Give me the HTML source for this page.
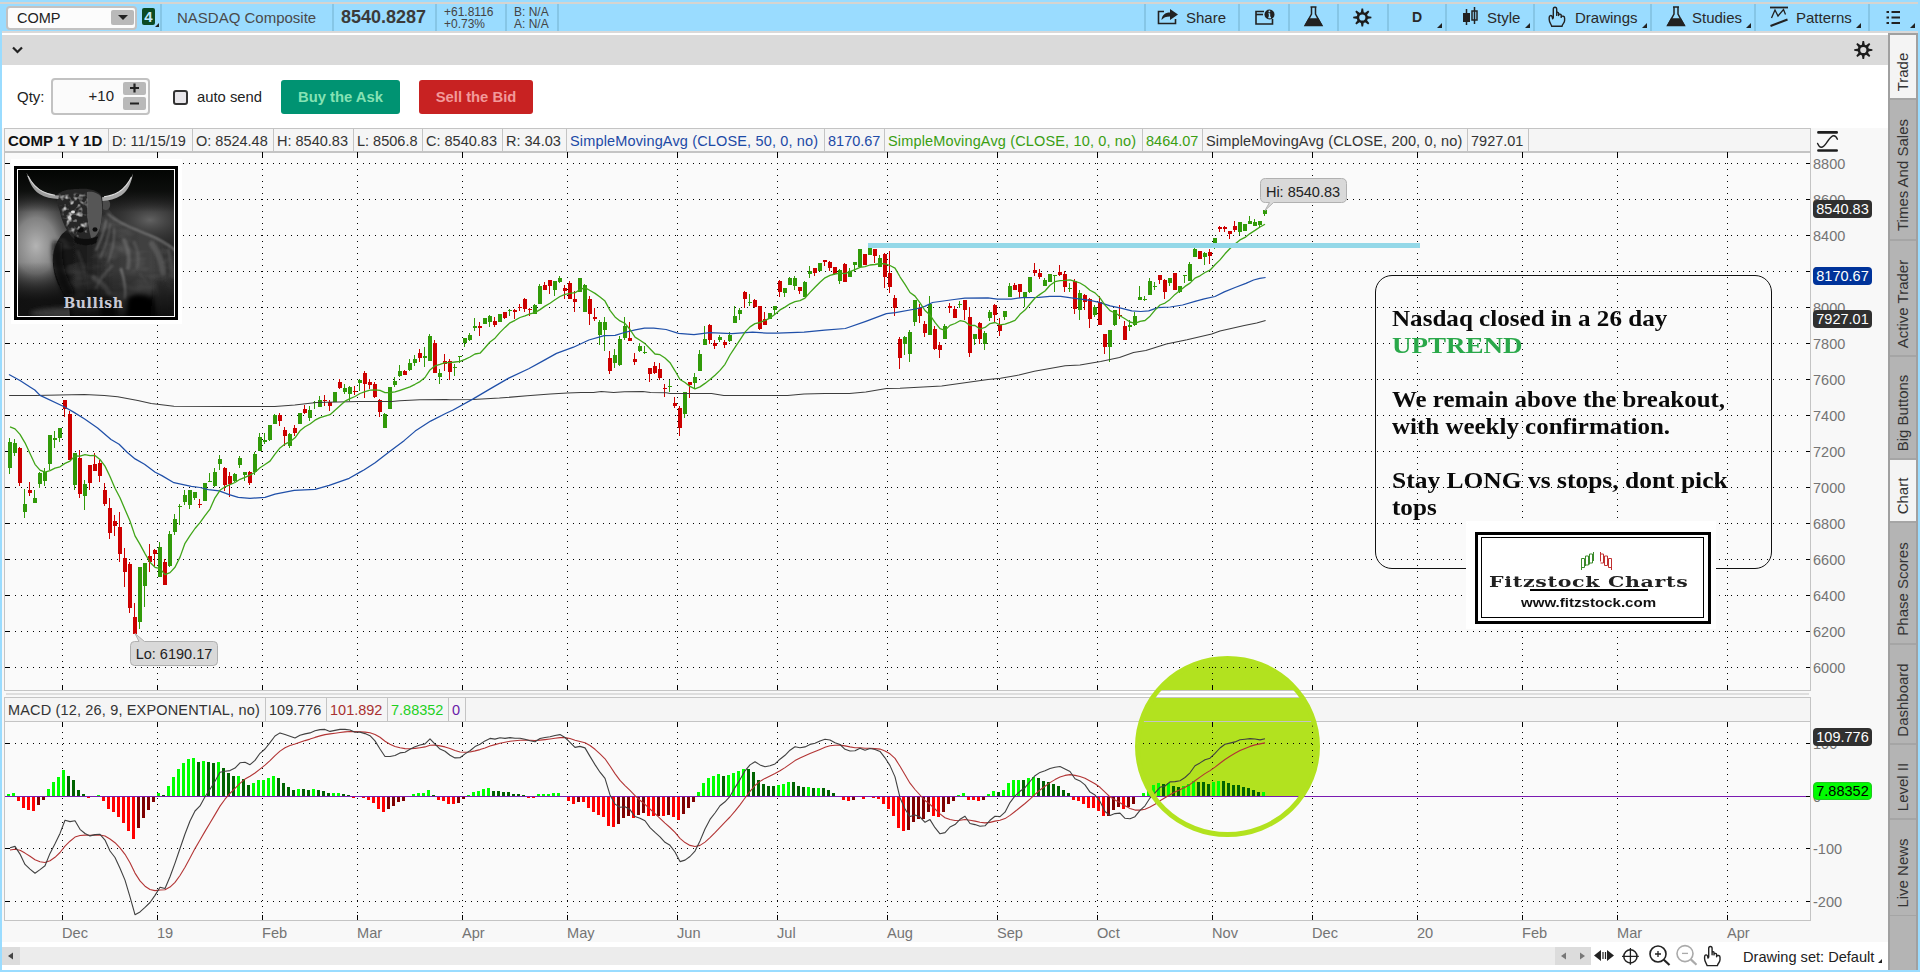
<!DOCTYPE html>
<html><head><meta charset="utf-8"><title>COMP chart</title>
<style>
html,body{margin:0;padding:0;}
body{width:1920px;height:972px;overflow:hidden;background:#fff;font-family:"Liberation Sans",sans-serif;color:#222;}
#app{position:relative;width:1920px;height:972px;overflow:hidden;background:#fff;}
#app>*{position:absolute;}
.abs{position:absolute;}
#chart{left:0;top:0;}
/* frame */
#topblue{left:0;top:0;width:1920px;height:31px;background:#9adcff;}
#topline{left:0;top:2px;width:1918px;height:2px;background:#d6d4d0;}
#tbline{left:0;top:31px;width:1918px;height:2px;background:#d9d9d9;}
#lborder{left:0;top:31px;width:2px;height:941px;background:#9adcff;}
#rborder{left:1918px;top:0;width:2px;height:972px;background:#9adcff;}
#bborder{left:0;top:970px;width:1920px;height:2px;background:#9adcff;}
#graybar{left:2px;top:35px;width:1886px;height:30px;background:#dadada;}
#axisbg{left:2px;top:128px;width:1886px;height:814px;background:#f8f8f8;}
/* toolbar */
.tsep{top:4px;width:2px;height:27px;background:#86c6e6;}
.tb{top:4px;height:27px;line-height:27px;font-size:15px;color:#2a2a2a;white-space:nowrap;}
.tri{width:0;height:0;border-left:5px solid transparent;border-bottom:5px solid #222;}
#combo{left:6px;top:6px;width:127px;height:20px;border:2px solid #c2c2c2;border-radius:4px;background:#fcfcfc;}
#combo span{position:absolute;left:9px;top:0;line-height:20px;font-size:14.5px;color:#222;}
#combo i{position:absolute;left:103px;top:2px;width:23px;height:15px;background:#b9b9b9;border-radius:2px;}
#combo i:after{content:"";position:absolute;left:7px;top:5px;border-left:5px solid transparent;border-right:5px solid transparent;border-top:5px solid #222;}
#badge{left:142px;top:8px;width:13px;height:17px;background:#0a4a24;border-radius:2px;color:#bfe8ff;font-size:15px;font-weight:bold;line-height:17px;text-align:center;}
/* qty row */
#qty{left:17px;top:88px;font-size:15px;color:#222;}
#qtybox{left:51px;top:78px;width:95px;height:33px;border:2px solid #c2c2c2;border-radius:4px;background:#fbfbfb;}
#qtybox span{position:absolute;right:34px;top:0;line-height:32px;font-size:15px;}
#qtybox b{position:absolute;left:70px;width:23px;height:13px;background:#b9b9b9;border-radius:2px;}
#chk{left:173px;top:90px;width:11px;height:11px;border:2px solid #333;border-radius:3px;background:#e8e6ea;}
#autosend{left:197px;top:89px;font-size:14.8px;color:#222;}
.btn{top:80px;height:34px;line-height:35.500px;border-radius:3px;font-size:14.8px;font-weight:bold;text-align:center;}
#buy{left:281px;width:119px;background:#009372;color:#86e2b4;}
#sell{left:419px;width:114px;background:#c82222;color:#f29a9a;}
/* header row */
#hdr{left:4px;top:128px;width:1807px;height:24px;border:1px solid #c4c4c4;box-sizing:border-box;background:#f5f5f5;}
.hc{position:absolute;top:0;height:22px;line-height:24.5px;font-size:14.5px;color:#333;border-right:1px solid #c4c4c4;box-sizing:border-box;white-space:nowrap;padding-left:3px;}
/* sidebar */
#side{left:1888px;top:33px;width:30px;height:937px;background:#a0a0a0;}
.tab{position:absolute;left:2px;width:26px;background:#b4b4b4;border-bottom:2px solid #a5a5a5;box-sizing:border-box;}
.tab span{position:absolute;left:calc(50% - 1px);top:calc(50% + 5.5px);transform:translate(-50%,-50%) rotate(-90deg);white-space:nowrap;font-size:15px;color:#333;}
.tab.on{background:#f4f4f4;}
/* axis labels */
.yl{left:1813px;font-size:14.5px;line-height:16px;color:#747474;}
.ml{top:924.700px;font-size:14.6px;line-height:17px;color:#747474;}
.bdg{left:1813px;width:59px;height:18px;border-radius:4px;color:#fff;font-size:14.5px;line-height:18.5px;text-align:center;}
.bub{background:#d9d9d9;border:1px solid #b4b4b4;border-radius:5px;font-size:14px;color:#222;text-align:center;box-sizing:border-box;}
/* bottom */
#scroll{left:2px;top:947px;width:1589px;height:18px;background:#ececec;}
#botlbl{left:1743px;top:948px;font-size:14.6px;line-height:18px;color:#222;}
/* note box */
#note{left:1375px;top:275px;width:397px;height:294px;border:1px solid #111;border-radius:17px;box-sizing:border-box;}
#note div{position:absolute;left:16px;white-space:nowrap;font-family:"Liberation Serif",serif;font-weight:bold;font-size:24px;line-height:27px;color:#0a0a0a;transform-origin:0 50%;}
#logo{left:1466px;top:521px;width:250px;height:108px;background:#fff;}
#logo .o{position:absolute;left:9px;top:11px;width:230px;height:86px;border:3px solid #000;}
#logo .i{position:absolute;left:15px;top:16px;width:221px;height:79px;border:1px solid #000;}
#bull{left:11px;top:159px;width:171px;height:165px;background:#fff;overflow:hidden;}
#bull svg{position:absolute;left:-1px;top:1px;}

</style></head><body>
<div id="app">
<div id="topblue"></div><div id="topline"></div><div id="tbline"></div>
<div id="graybar"></div><div id="axisbg"></div>
<div id="lborder"></div><div id="rborder"></div><div id="bborder"></div>
<div id="combo"><span>COMP</span><i></i></div>
<div id="badge">4</div><div class="tri" style="left:155px;top:23px;border-left-width:4px;border-bottom-width:4px"></div>
<div class="tsep" style="left:160px"></div>
<div class="tsep" style="left:332px"></div>
<div class="tsep" style="left:435px"></div>
<div class="tsep" style="left:505px"></div>
<div class="tsep" style="left:557px"></div>
<div class="tsep" style="left:1144px"></div>
<div class="tsep" style="left:1238px"></div>
<div class="tsep" style="left:1288px"></div>
<div class="tsep" style="left:1337px"></div>
<div class="tsep" style="left:1387px"></div>
<div class="tsep" style="left:1445px"></div>
<div class="tsep" style="left:1533px"></div>
<div class="tsep" style="left:1650px"></div>
<div class="tsep" style="left:1754px"></div>
<div class="tsep" style="left:1868px"></div>
<div class="tb" style="left:177px;color:#4a4a4a;font-size:15px">NASDAQ Composite</div>
<div class="tb" style="left:341px;font-size:18px;font-weight:bold;color:#3a3a3a">8540.8287</div>
<div class="tb" style="left:444px;font-size:12px;line-height:12px;top:6px;color:#444">+61.8116<br>+0.73%</div>
<div class="tb" style="left:514px;font-size:12px;line-height:12px;top:6px;color:#444">B: N/A<br>A: N/A</div>
<div class="tb" style="left:1186px">Share</div>
<div class="tb" style="left:1412px;font-weight:bold;font-size:14px">D</div>
<div class="tb" style="left:1487px">Style</div>
<div class="tb" style="left:1575px">Drawings</div>
<div class="tb" style="left:1692px">Studies</div>
<div class="tb" style="left:1796px">Patterns</div>
<div class="tri" style="left:1437px;top:23px"></div>
<div class="tri" style="left:1525px;top:23px"></div>
<div class="tri" style="left:1642px;top:23px"></div>
<div class="tri" style="left:1746px;top:23px"></div>
<div class="tri" style="left:1856px;top:23px"></div>
<div class="tri" style="left:1910px;top:23px"></div>
<svg class="abs" style="left:0;top:0" width="1920" height="70" viewBox="0 0 1920 70" fill="none" stroke="#222" stroke-width="1.6">
<!-- share -->
<path d="M1164 11.5H1158.5V23.5H1175.5V19" />
<path d="M1161.5 20C1162 15 1165 12.5 1170 12.5V9L1178 14.5L1170 20V16.5C1166 16.5 1163.5 17.5 1161.500 20Z" fill="#222" stroke="none"/>
<!-- info window -->
<path d="M1264 11.500H1256V24H1272.5V19"/><path d="M1256 14.500H1263"/>
<circle cx="1269.500" cy="14.500" r="5" fill="#222" stroke="none"/>
<path d="M1269.500 13.500V17.500M1268.300 17.500H1271M1268.500 13.500H1269.500" stroke="#9adcff" stroke-width="1.400"/><circle cx="1269.400" cy="11.300" r="0.900" fill="#9adcff" stroke="none"/>
<!-- flask1 -->
<g id="flask"><path d="M1310.500 7H1316.500M1311.500 7.500V14L1305.500 25H1321.500L1315.500 14V7.500" stroke-width="1.500"/><path d="M1309 19L1305.200 25.500H1321.800L1318 19Z" fill="#222"/></g>
<use href="#flask" x="362.500"/>
<!-- gear -->
<g id="gear" transform="translate(0.300 0.500)"><path d="M1366.60 18.55L1371.10 17.80L1371.10 16.20L1366.60 15.45ZM1364.16 21.35L1367.87 24.00L1369.00 22.87L1366.35 19.16ZM1360.45 21.60L1361.20 26.10L1362.80 26.10L1363.55 21.60ZM1357.65 19.16L1355.00 22.87L1356.13 24.00L1359.84 21.35ZM1357.40 15.45L1352.90 16.20L1352.90 17.80L1357.40 18.55ZM1359.84 12.65L1356.13 10.00L1355.00 11.13L1357.65 14.84ZM1363.55 12.40L1362.80 7.90L1361.20 7.90L1360.45 12.40ZM1366.35 14.84L1369.00 11.13L1367.87 10.00L1364.16 12.65Z" fill="#1c1c1c" stroke="none"/><circle cx="1362" cy="17" r="4.35" stroke="#1c1c1c" stroke-width="2.500" fill="none"/></g>
<use href="#gear" x="501" y="32.500"/>
<!-- style candles -->
<path d="M1466.500 9V25M1474.500 7V24" stroke-width="1.500"/><rect x="1463.500" y="13.500" width="6" height="8" fill="#222" stroke-width="1"/><rect x="1472" y="11" width="5" height="9" stroke-width="1.500"/>
<!-- hand -->
<g id="hand" stroke-width="1.400" stroke-linejoin="round" stroke-linecap="round"><path d="M1553.300 17.800V9.200C1553.300 6.600 1556.700 6.600 1556.700 9.200V15.400M1556.700 13.200C1557 11.900 1558.600 12.100 1558.600 13.500V15.600M1558.700 14.900C1559 13.700 1561.200 13.900 1561.200 15.300V17.400M1561.300 16.700C1562 15.700 1564.600 16.100 1564.600 17.900V20.500C1564.600 23 1562.400 24 1562 26.300H1551.700C1551.400 24.500 1549.200 22.500 1549.200 19.500V17.600C1549.200 15.200 1551.600 14.900 1552.200 16.900L1552.600 18.700L1553.300 17.800"/></g>
<!-- patterns -->
<path d="M1770 7.500H1788" stroke-width="1.800"/><path d="M1771.500 18L1775 10L1778 16L1783.500 9.500L1785.500 14.500" stroke-width="1.300"/><path d="M1770.500 26L1787.500 19.500" stroke-width="2"/>
<!-- list -->
<path d="M1891.500 12H1900M1891.500 17.500H1900M1891.500 23H1900" stroke-width="2"/><path d="M1886.500 12H1889M1886.500 17.500H1889M1886.500 23H1889" stroke-width="2"/>
<!-- chevron -->
<path d="M13 47.500L17.500 52L22 47.500" stroke-width="2.200"/>
</svg>
<div id="qty">Qty:</div><div id="qtybox"><span>+10</span><b style="top:2px"></b><b style="top:17px"></b></div>
<svg class="abs" style="left:123px;top:79.500px" width="24" height="34" stroke="#222" stroke-width="2.200"><path d="M7 8H16M11.500 3.500V12.500M7 23.500H16"/></svg>
<div id="chk"></div><div id="autosend">auto send</div>
<div id="buy" class="btn">Buy the Ask</div><div id="sell" class="btn">Sell the Bid</div>
<div id="hdr"><div class="hc" style="left:0px;width:104px;color:#111"><b style="color:#111;font-size:15px">COMP 1 Y 1D</b></div><div class="hc" style="left:104px;width:84px;color:#333">D: 11/15/19</div><div class="hc" style="left:188px;width:81px;color:#333">O: 8524.48</div><div class="hc" style="left:269px;width:80px;color:#333">H: 8540.83</div><div class="hc" style="left:349px;width:69px;color:#333">L: 8506.8</div><div class="hc" style="left:418px;width:80px;color:#333">C: 8540.83</div><div class="hc" style="left:498px;width:64px;color:#333">R: 34.03</div><div class="hc" style="left:562px;width:258px;color:#1c4aa6"><span style="letter-spacing:0.15px">SimpleMovingAvg (CLOSE, 50, 0, no)</span></div><div class="hc" style="left:820px;width:60px;color:#1c4aa6">8170.67</div><div class="hc" style="left:880px;width:258px;color:#3a9e12"><span style="letter-spacing:0.15px">SimpleMovingAvg (CLOSE, 10, 0, no)</span></div><div class="hc" style="left:1138px;width:60px;color:#3a9e12">8464.07</div><div class="hc" style="left:1198px;width:265px;color:#333"><span style="letter-spacing:0.15px">SimpleMovingAvg (CLOSE, 200, 0, no)</span></div><div class="hc" style="left:1463px;width:61px;color:#333">7927.01</div></div>
<div id="side"><div class="tab on" style="top:2px;height:65px"><span>Trade</span></div><div class="tab" style="top:67px;height:141px"><span>Times And Sales</span></div><div class="tab" style="top:208px;height:116px"><span>Active Trader</span></div><div class="tab" style="top:324px;height:103px"><span>Big Buttons</span></div><div class="tab on" style="top:427px;height:63px"><span>Chart</span></div><div class="tab" style="top:490px;height:122px"><span>Phase Scores</span></div><div class="tab" style="top:612px;height:100px"><span>Dashboard</span></div><div class="tab" style="top:712px;height:75px"><span>Level II</span></div><div class="tab" style="top:787px;height:97px"><span>Live News</span></div><div class="tab" style="top:883px;height:54px;border-bottom:0"></div></div>
<div class="abs" style="left:2px;top:942px;width:1886px;height:28px;background:#fff"></div>
<div id="scroll"><div class="abs" style="left:0;top:0;width:18px;height:18px;background:#dcdcdc"></div><div class="abs" style="left:1553px;top:0;width:36px;height:18px;background:#dcdcdc"></div></div>
<svg class="abs" style="left:0;top:942px" width="1900" height="28" viewBox="0 942 1900 28" fill="none" stroke="#222" stroke-width="1.500">
<path d="M13 952.500L8 956L13 959.500Z" fill="#444" stroke="none"/>
<path d="M1566 952.500L1561 956L1566 959.500Z" fill="#777" stroke="none"/><path d="M1580 952.500L1585 956L1580 959.500Z" fill="#777" stroke="none"/>
<path d="M1601 950L1594 955.500L1601 961Z M1607 950L1614 955.500L1607 961Z" fill="#222" stroke="none"/><path d="M1603 952V959M1605.500 952V959" stroke-width="1.200"/>
<circle cx="1630.400" cy="956.400" r="6.600"/><path d="M1622 956.400H1638.800M1630.400 948V964.800" stroke-width="1.300"/>
<circle cx="1658" cy="954" r="8" stroke-width="1.600"/><path d="M1663.800 959.800L1669.500 965" stroke-width="2.200"/><path d="M1655 954H1661M1658 951V957" stroke-width="1.300"/>
<g stroke="#aaa"><circle cx="1685" cy="953.600" r="8" stroke-width="1.600"/><path d="M1690.800 959.400L1696.500 964.800" stroke-width="2.200"/><path d="M1682 953.400H1688" stroke-width="1.300"/></g>
<use href="#hand" x="155.400" y="939.300"/>
</svg>
<div id="botlbl">Drawing set: Default</div><div class="tri" style="left:1878px;top:959px;border-left-width:4px;border-bottom-width:4px"></div>
<svg id="chart" width="1920" height="972" viewBox="0 0 1920 972">
<rect x="4.5" y="152.5" width="1806" height="538" fill="#fafafa" stroke="#c4c4c4"/>
<rect x="6" y="693" width="1803" height="2" fill="#dedede"/>
<rect x="4.5" y="697.5" width="1806" height="223" fill="#fafafa" stroke="#c4c4c4"/>
<rect x="5" y="698" width="1805" height="23" fill="#f5f5f5"/>
<clipPath id="cpz"><rect x="1100" y="640" width="300" height="156"/></clipPath>
<ellipse cx="1227.5" cy="746.5" rx="90" ry="88" fill="#b2e21f" clip-path="url(#cpz)"/>
<rect x="1100" y="691" width="300" height="6" fill="#fff"/>
<rect x="1100" y="693" width="300" height="2" fill="#dedede"/>
<rect x="1100" y="690" width="300" height="1" fill="#c4c4c4"/>
<rect x="1100" y="697" width="300" height="1" fill="#c4c4c4"/>
<path d="M5 721.5H1810" stroke="#c4c4c4"/>
<g shape-rendering="crispEdges" stroke="#000" stroke-width="1" fill="none">
<path d="M9 163.5H1800" stroke-dasharray="1 5"/><path d="M1806 163.5H1810M5 163.5H10"/>
<path d="M9 199.5H1800" stroke-dasharray="1 5"/><path d="M1806 199.5H1810M5 199.5H10"/>
<path d="M9 235.5H1800" stroke-dasharray="1 5"/><path d="M1806 235.5H1810M5 235.5H10"/>
<path d="M9 271.5H1800" stroke-dasharray="1 5"/><path d="M1806 271.5H1810M5 271.5H10"/>
<path d="M9 307.5H1800" stroke-dasharray="1 5"/><path d="M1806 307.5H1810M5 307.5H10"/>
<path d="M9 343.5H1800" stroke-dasharray="1 5"/><path d="M1806 343.5H1810M5 343.5H10"/>
<path d="M9 379.5H1800" stroke-dasharray="1 5"/><path d="M1806 379.5H1810M5 379.5H10"/>
<path d="M9 415.5H1800" stroke-dasharray="1 5"/><path d="M1806 415.5H1810M5 415.5H10"/>
<path d="M9 451.5H1800" stroke-dasharray="1 5"/><path d="M1806 451.5H1810M5 451.5H10"/>
<path d="M9 487.5H1800" stroke-dasharray="1 5"/><path d="M1806 487.5H1810M5 487.5H10"/>
<path d="M9 523.5H1800" stroke-dasharray="1 5"/><path d="M1806 523.5H1810M5 523.5H10"/>
<path d="M9 559.5H1800" stroke-dasharray="1 5"/><path d="M1806 559.5H1810M5 559.5H10"/>
<path d="M9 595.5H1800" stroke-dasharray="1 5"/><path d="M1806 595.5H1810M5 595.5H10"/>
<path d="M9 631.5H1800" stroke-dasharray="1 5"/><path d="M1806 631.5H1810M5 631.5H10"/>
<path d="M9 667.5H1800" stroke-dasharray="1 5"/><path d="M1806 667.5H1810M5 667.5H10"/>
<path d="M62.5 157V686" stroke-dasharray="1 5"/><path d="M62.5 152V157M62.5 685V690"/>
<path d="M157.5 157V686" stroke-dasharray="1 5"/><path d="M157.5 152V157M157.5 685V690"/>
<path d="M262.5 157V686" stroke-dasharray="1 5"/><path d="M262.5 152V157M262.5 685V690"/>
<path d="M357.5 157V686" stroke-dasharray="1 5"/><path d="M357.5 152V157M357.5 685V690"/>
<path d="M462.5 157V686" stroke-dasharray="1 5"/><path d="M462.5 152V157M462.5 685V690"/>
<path d="M567.5 157V686" stroke-dasharray="1 5"/><path d="M567.5 152V157M567.5 685V690"/>
<path d="M677.5 157V686" stroke-dasharray="1 5"/><path d="M677.5 152V157M677.5 685V690"/>
<path d="M777.5 157V686" stroke-dasharray="1 5"/><path d="M777.5 152V157M777.5 685V690"/>
<path d="M887.5 157V686" stroke-dasharray="1 5"/><path d="M887.5 152V157M887.5 685V690"/>
<path d="M997.5 157V686" stroke-dasharray="1 5"/><path d="M997.5 152V157M997.5 685V690"/>
<path d="M1097.5 157V686" stroke-dasharray="1 5"/><path d="M1097.5 152V157M1097.5 685V690"/>
<path d="M1212.5 157V686" stroke-dasharray="1 5"/><path d="M1212.5 152V157M1212.5 685V690"/>
<path d="M1312.5 157V686" stroke-dasharray="1 5"/><path d="M1312.5 152V157M1312.5 685V690"/>
<path d="M1417.5 157V686" stroke-dasharray="1 5"/><path d="M1417.5 152V157M1417.5 685V690"/>
<path d="M1522.5 157V686" stroke-dasharray="1 5"/><path d="M1522.5 152V157M1522.5 685V690"/>
<path d="M1617.5 157V686" stroke-dasharray="1 5"/><path d="M1617.5 152V157M1617.5 685V690"/>
<path d="M1727.5 157V686" stroke-dasharray="1 5"/><path d="M1727.5 152V157M1727.5 685V690"/>
<path d="M9 743.5H1800" stroke-dasharray="1 5"/><path d="M1806 743.5H1810M5 743.5H10"/>
<path d="M9 848.5H1800" stroke-dasharray="1 5"/><path d="M1806 848.5H1810M5 848.5H10"/>
<path d="M9 901.5H1800" stroke-dasharray="1 5"/><path d="M1806 901.5H1810M5 901.5H10"/>
<path d="M1806 796.5H1810"/>
<path d="M62.5 726V916" stroke-dasharray="1 5"/><path d="M62.5 722V726M62.5 915V920"/>
<path d="M157.5 726V916" stroke-dasharray="1 5"/><path d="M157.5 722V726M157.5 915V920"/>
<path d="M262.5 726V916" stroke-dasharray="1 5"/><path d="M262.5 722V726M262.5 915V920"/>
<path d="M357.5 726V916" stroke-dasharray="1 5"/><path d="M357.5 722V726M357.5 915V920"/>
<path d="M462.5 726V916" stroke-dasharray="1 5"/><path d="M462.5 722V726M462.5 915V920"/>
<path d="M567.5 726V916" stroke-dasharray="1 5"/><path d="M567.5 722V726M567.5 915V920"/>
<path d="M677.5 726V916" stroke-dasharray="1 5"/><path d="M677.5 722V726M677.5 915V920"/>
<path d="M777.5 726V916" stroke-dasharray="1 5"/><path d="M777.5 722V726M777.5 915V920"/>
<path d="M887.5 726V916" stroke-dasharray="1 5"/><path d="M887.5 722V726M887.5 915V920"/>
<path d="M997.5 726V916" stroke-dasharray="1 5"/><path d="M997.5 722V726M997.5 915V920"/>
<path d="M1097.5 726V916" stroke-dasharray="1 5"/><path d="M1097.5 722V726M1097.5 915V920"/>
<path d="M1212.5 726V916" stroke-dasharray="1 5"/><path d="M1212.5 722V726M1212.5 915V920"/>
<path d="M1312.5 726V916" stroke-dasharray="1 5"/><path d="M1312.5 722V726M1312.5 915V920"/>
<path d="M1417.5 726V916" stroke-dasharray="1 5"/><path d="M1417.5 722V726M1417.5 915V920"/>
<path d="M1522.5 726V916" stroke-dasharray="1 5"/><path d="M1522.5 722V726M1522.5 915V920"/>
<path d="M1617.5 726V916" stroke-dasharray="1 5"/><path d="M1617.5 722V726M1617.5 915V920"/>
<path d="M1727.5 726V916" stroke-dasharray="1 5"/><path d="M1727.5 722V726M1727.5 915V920"/>
</g>
<g shape-rendering="crispEdges">
<rect x="9" y="438" width="1" height="36" fill="#319a09"/>
<rect x="8" y="442" width="4" height="26" fill="#319a09"/>
<rect x="14" y="439" width="1" height="17" fill="#319a09"/>
<rect x="13" y="443" width="4" height="10" fill="#319a09"/>
<rect x="19" y="447" width="1" height="39" fill="#cc0000"/>
<rect x="18" y="448" width="4" height="35" fill="#cc0000"/>
<rect x="24" y="489" width="1" height="29" fill="#319a09"/>
<rect x="23" y="504" width="4" height="8" fill="#319a09"/>
<rect x="29" y="482" width="1" height="14" fill="#cc0000"/>
<rect x="28" y="490" width="4" height="3" fill="#cc0000"/>
<rect x="34" y="490" width="1" height="13" fill="#319a09"/>
<rect x="33" y="498" width="4" height="5" fill="#319a09"/>
<rect x="39" y="472" width="1" height="16" fill="#319a09"/>
<rect x="38" y="473" width="4" height="11" fill="#319a09"/>
<rect x="44" y="468" width="1" height="18" fill="#319a09"/>
<rect x="43" y="472" width="4" height="9" fill="#319a09"/>
<rect x="49" y="435" width="1" height="35" fill="#319a09"/>
<rect x="48" y="435" width="4" height="29" fill="#319a09"/>
<rect x="54" y="431" width="1" height="17" fill="#319a09"/>
<rect x="53" y="438" width="4" height="2" fill="#319a09"/>
<rect x="59" y="428" width="1" height="14" fill="#319a09"/>
<rect x="58" y="428" width="4" height="10" fill="#319a09"/>
<rect x="64" y="400" width="1" height="17" fill="#cc0000"/>
<rect x="63" y="400" width="4" height="9" fill="#cc0000"/>
<rect x="69" y="411" width="1" height="49" fill="#cc0000"/>
<rect x="68" y="414" width="4" height="46" fill="#cc0000"/>
<rect x="74" y="453" width="1" height="37" fill="#319a09"/>
<rect x="73" y="453" width="4" height="32" fill="#319a09"/>
<rect x="79" y="450" width="1" height="48" fill="#cc0000"/>
<rect x="78" y="458" width="4" height="36" fill="#cc0000"/>
<rect x="84" y="480" width="1" height="30" fill="#319a09"/>
<rect x="83" y="484" width="4" height="12" fill="#319a09"/>
<rect x="89" y="465" width="1" height="25" fill="#cc0000"/>
<rect x="88" y="465" width="4" height="18" fill="#cc0000"/>
<rect x="94" y="453" width="1" height="18" fill="#cc0000"/>
<rect x="93" y="464" width="4" height="7" fill="#cc0000"/>
<rect x="99" y="460" width="1" height="22" fill="#cc0000"/>
<rect x="98" y="463" width="4" height="13" fill="#cc0000"/>
<rect x="104" y="483" width="1" height="23" fill="#cc0000"/>
<rect x="103" y="490" width="4" height="14" fill="#cc0000"/>
<rect x="109" y="498" width="1" height="41" fill="#cc0000"/>
<rect x="108" y="508" width="4" height="25" fill="#cc0000"/>
<rect x="114" y="515" width="1" height="21" fill="#cc0000"/>
<rect x="113" y="521" width="4" height="5" fill="#cc0000"/>
<rect x="119" y="512" width="1" height="50" fill="#cc0000"/>
<rect x="118" y="527" width="4" height="27" fill="#cc0000"/>
<rect x="124" y="548" width="1" height="39" fill="#cc0000"/>
<rect x="123" y="558" width="4" height="14" fill="#cc0000"/>
<rect x="129" y="562" width="1" height="51" fill="#cc0000"/>
<rect x="128" y="564" width="4" height="44" fill="#cc0000"/>
<rect x="134" y="603" width="1" height="31" fill="#cc0000"/>
<rect x="133" y="617" width="4" height="17" fill="#cc0000"/>
<rect x="139" y="567" width="1" height="62" fill="#319a09"/>
<rect x="138" y="567" width="4" height="55" fill="#319a09"/>
<rect x="144" y="563" width="1" height="44" fill="#319a09"/>
<rect x="143" y="563" width="4" height="23" fill="#319a09"/>
<rect x="149" y="544" width="1" height="28" fill="#cc0000"/>
<rect x="148" y="556" width="4" height="6" fill="#cc0000"/>
<rect x="154" y="549" width="1" height="17" fill="#cc0000"/>
<rect x="153" y="550" width="4" height="4" fill="#cc0000"/>
<rect x="159" y="542" width="1" height="35" fill="#319a09"/>
<rect x="158" y="547" width="4" height="30" fill="#319a09"/>
<rect x="164" y="559" width="1" height="26" fill="#cc0000"/>
<rect x="163" y="562" width="4" height="23" fill="#cc0000"/>
<rect x="169" y="531" width="1" height="36" fill="#319a09"/>
<rect x="168" y="534" width="4" height="32" fill="#319a09"/>
<rect x="174" y="514" width="1" height="21" fill="#319a09"/>
<rect x="173" y="519" width="4" height="13" fill="#319a09"/>
<rect x="179" y="504" width="1" height="21" fill="#319a09"/>
<rect x="178" y="506" width="4" height="1" fill="#319a09"/>
<rect x="184" y="490" width="1" height="15" fill="#319a09"/>
<rect x="183" y="495" width="4" height="7" fill="#319a09"/>
<rect x="189" y="490" width="1" height="19" fill="#319a09"/>
<rect x="188" y="490" width="4" height="15" fill="#319a09"/>
<rect x="194" y="492" width="1" height="8" fill="#319a09"/>
<rect x="193" y="492" width="4" height="6" fill="#319a09"/>
<rect x="199" y="499" width="1" height="9" fill="#cc0000"/>
<rect x="198" y="504" width="4" height="1" fill="#cc0000"/>
<rect x="204" y="483" width="1" height="18" fill="#319a09"/>
<rect x="203" y="483" width="4" height="18" fill="#319a09"/>
<rect x="209" y="473" width="1" height="9" fill="#319a09"/>
<rect x="208" y="481" width="4" height="1" fill="#319a09"/>
<rect x="214" y="468" width="1" height="19" fill="#319a09"/>
<rect x="213" y="472" width="4" height="14" fill="#319a09"/>
<rect x="219" y="455" width="1" height="15" fill="#319a09"/>
<rect x="218" y="459" width="4" height="5" fill="#319a09"/>
<rect x="224" y="467" width="1" height="24" fill="#cc0000"/>
<rect x="223" y="468" width="4" height="17" fill="#cc0000"/>
<rect x="229" y="472" width="1" height="25" fill="#cc0000"/>
<rect x="228" y="476" width="4" height="8" fill="#cc0000"/>
<rect x="234" y="473" width="1" height="9" fill="#319a09"/>
<rect x="233" y="474" width="4" height="7" fill="#319a09"/>
<rect x="239" y="456" width="1" height="12" fill="#319a09"/>
<rect x="238" y="458" width="4" height="7" fill="#319a09"/>
<rect x="244" y="472" width="1" height="9" fill="#319a09"/>
<rect x="243" y="472" width="4" height="3" fill="#319a09"/>
<rect x="249" y="471" width="1" height="14" fill="#cc0000"/>
<rect x="248" y="472" width="4" height="11" fill="#cc0000"/>
<rect x="254" y="452" width="1" height="23" fill="#319a09"/>
<rect x="253" y="454" width="4" height="18" fill="#319a09"/>
<rect x="259" y="433" width="1" height="18" fill="#319a09"/>
<rect x="258" y="437" width="4" height="14" fill="#319a09"/>
<rect x="264" y="433" width="1" height="11" fill="#319a09"/>
<rect x="263" y="440" width="4" height="2" fill="#319a09"/>
<rect x="269" y="425" width="1" height="16" fill="#319a09"/>
<rect x="268" y="425" width="4" height="15" fill="#319a09"/>
<rect x="274" y="414" width="1" height="10" fill="#319a09"/>
<rect x="273" y="415" width="4" height="9" fill="#319a09"/>
<rect x="279" y="413" width="1" height="13" fill="#cc0000"/>
<rect x="278" y="415" width="4" height="6" fill="#cc0000"/>
<rect x="284" y="427" width="1" height="19" fill="#cc0000"/>
<rect x="283" y="430" width="4" height="6" fill="#cc0000"/>
<rect x="289" y="433" width="1" height="15" fill="#319a09"/>
<rect x="288" y="434" width="4" height="12" fill="#319a09"/>
<rect x="294" y="425" width="1" height="11" fill="#cc0000"/>
<rect x="293" y="428" width="4" height="5" fill="#cc0000"/>
<rect x="299" y="413" width="1" height="11" fill="#319a09"/>
<rect x="298" y="413" width="4" height="11" fill="#319a09"/>
<rect x="304" y="405" width="1" height="9" fill="#cc0000"/>
<rect x="303" y="409" width="4" height="4" fill="#cc0000"/>
<rect x="309" y="406" width="1" height="15" fill="#319a09"/>
<rect x="308" y="410" width="4" height="8" fill="#319a09"/>
<rect x="314" y="401" width="1" height="8" fill="#319a09"/>
<rect x="313" y="402" width="4" height="1" fill="#319a09"/>
<rect x="319" y="396" width="1" height="11" fill="#319a09"/>
<rect x="318" y="400" width="4" height="7" fill="#319a09"/>
<rect x="324" y="395" width="1" height="11" fill="#cc0000"/>
<rect x="323" y="400" width="4" height="1" fill="#cc0000"/>
<rect x="329" y="400" width="1" height="11" fill="#cc0000"/>
<rect x="328" y="402" width="4" height="4" fill="#cc0000"/>
<rect x="334" y="392" width="1" height="10" fill="#319a09"/>
<rect x="333" y="392" width="4" height="10" fill="#319a09"/>
<rect x="339" y="379" width="1" height="10" fill="#cc0000"/>
<rect x="338" y="382" width="4" height="6" fill="#cc0000"/>
<rect x="344" y="384" width="1" height="10" fill="#319a09"/>
<rect x="343" y="388" width="4" height="4" fill="#319a09"/>
<rect x="349" y="386" width="1" height="15" fill="#319a09"/>
<rect x="348" y="387" width="4" height="7" fill="#319a09"/>
<rect x="354" y="386" width="1" height="9" fill="#cc0000"/>
<rect x="353" y="391" width="4" height="1" fill="#cc0000"/>
<rect x="359" y="379" width="1" height="12" fill="#319a09"/>
<rect x="358" y="380" width="4" height="3" fill="#319a09"/>
<rect x="364" y="371" width="1" height="27" fill="#cc0000"/>
<rect x="363" y="373" width="4" height="11" fill="#cc0000"/>
<rect x="369" y="379" width="1" height="10" fill="#cc0000"/>
<rect x="368" y="382" width="4" height="3" fill="#cc0000"/>
<rect x="374" y="382" width="1" height="16" fill="#cc0000"/>
<rect x="373" y="384" width="4" height="13" fill="#cc0000"/>
<rect x="379" y="399" width="1" height="18" fill="#cc0000"/>
<rect x="378" y="400" width="4" height="12" fill="#cc0000"/>
<rect x="384" y="413" width="1" height="15" fill="#319a09"/>
<rect x="383" y="414" width="4" height="14" fill="#319a09"/>
<rect x="389" y="387" width="1" height="22" fill="#319a09"/>
<rect x="388" y="387" width="4" height="22" fill="#319a09"/>
<rect x="394" y="377" width="1" height="10" fill="#319a09"/>
<rect x="393" y="381" width="4" height="4" fill="#319a09"/>
<rect x="399" y="365" width="1" height="12" fill="#319a09"/>
<rect x="398" y="371" width="4" height="5" fill="#319a09"/>
<rect x="404" y="370" width="1" height="5" fill="#cc0000"/>
<rect x="403" y="371" width="4" height="4" fill="#cc0000"/>
<rect x="409" y="359" width="1" height="12" fill="#319a09"/>
<rect x="408" y="363" width="4" height="7" fill="#319a09"/>
<rect x="414" y="355" width="1" height="11" fill="#319a09"/>
<rect x="413" y="359" width="4" height="4" fill="#319a09"/>
<rect x="419" y="349" width="1" height="13" fill="#cc0000"/>
<rect x="418" y="353" width="4" height="5" fill="#cc0000"/>
<rect x="424" y="347" width="1" height="20" fill="#319a09"/>
<rect x="423" y="356" width="4" height="2" fill="#319a09"/>
<rect x="429" y="334" width="1" height="27" fill="#319a09"/>
<rect x="428" y="336" width="4" height="25" fill="#319a09"/>
<rect x="434" y="340" width="1" height="33" fill="#cc0000"/>
<rect x="433" y="343" width="4" height="30" fill="#cc0000"/>
<rect x="439" y="369" width="1" height="15" fill="#319a09"/>
<rect x="438" y="373" width="4" height="4" fill="#319a09"/>
<rect x="444" y="354" width="1" height="17" fill="#cc0000"/>
<rect x="443" y="361" width="4" height="3" fill="#cc0000"/>
<rect x="449" y="359" width="1" height="21" fill="#cc0000"/>
<rect x="448" y="361" width="4" height="11" fill="#cc0000"/>
<rect x="454" y="364" width="1" height="12" fill="#319a09"/>
<rect x="453" y="367" width="4" height="1" fill="#319a09"/>
<rect x="459" y="356" width="1" height="7" fill="#319a09"/>
<rect x="458" y="356" width="4" height="1" fill="#319a09"/>
<rect x="464" y="338" width="1" height="9" fill="#319a09"/>
<rect x="463" y="338" width="4" height="5" fill="#319a09"/>
<rect x="469" y="333" width="1" height="8" fill="#319a09"/>
<rect x="468" y="335" width="4" height="5" fill="#319a09"/>
<rect x="474" y="318" width="1" height="13" fill="#319a09"/>
<rect x="473" y="326" width="4" height="2" fill="#319a09"/>
<rect x="479" y="322" width="1" height="14" fill="#cc0000"/>
<rect x="478" y="326" width="4" height="2" fill="#cc0000"/>
<rect x="484" y="318" width="1" height="6" fill="#319a09"/>
<rect x="483" y="318" width="4" height="6" fill="#319a09"/>
<rect x="489" y="315" width="1" height="12" fill="#319a09"/>
<rect x="488" y="316" width="4" height="6" fill="#319a09"/>
<rect x="494" y="317" width="1" height="10" fill="#cc0000"/>
<rect x="493" y="321" width="4" height="4" fill="#cc0000"/>
<rect x="499" y="314" width="1" height="8" fill="#319a09"/>
<rect x="498" y="314" width="4" height="8" fill="#319a09"/>
<rect x="504" y="312" width="1" height="7" fill="#cc0000"/>
<rect x="503" y="312" width="4" height="6" fill="#cc0000"/>
<rect x="509" y="309" width="1" height="7" fill="#319a09"/>
<rect x="508" y="310" width="4" height="1" fill="#319a09"/>
<rect x="514" y="309" width="1" height="10" fill="#cc0000"/>
<rect x="513" y="310" width="4" height="2" fill="#cc0000"/>
<rect x="519" y="304" width="1" height="7" fill="#cc0000"/>
<rect x="518" y="307" width="4" height="1" fill="#cc0000"/>
<rect x="524" y="298" width="1" height="14" fill="#cc0000"/>
<rect x="523" y="299" width="4" height="10" fill="#cc0000"/>
<rect x="529" y="308" width="1" height="8" fill="#cc0000"/>
<rect x="528" y="309" width="4" height="1" fill="#cc0000"/>
<rect x="534" y="304" width="1" height="10" fill="#319a09"/>
<rect x="533" y="305" width="4" height="9" fill="#319a09"/>
<rect x="539" y="284" width="1" height="20" fill="#319a09"/>
<rect x="538" y="286" width="4" height="18" fill="#319a09"/>
<rect x="544" y="282" width="1" height="8" fill="#cc0000"/>
<rect x="543" y="285" width="4" height="5" fill="#cc0000"/>
<rect x="549" y="280" width="1" height="14" fill="#cc0000"/>
<rect x="548" y="280" width="4" height="6" fill="#cc0000"/>
<rect x="554" y="281" width="1" height="15" fill="#319a09"/>
<rect x="553" y="281" width="4" height="9" fill="#319a09"/>
<rect x="559" y="276" width="1" height="7" fill="#319a09"/>
<rect x="558" y="278" width="4" height="4" fill="#319a09"/>
<rect x="564" y="285" width="1" height="14" fill="#cc0000"/>
<rect x="563" y="288" width="4" height="3" fill="#cc0000"/>
<rect x="569" y="281" width="1" height="18" fill="#cc0000"/>
<rect x="568" y="283" width="4" height="16" fill="#cc0000"/>
<rect x="574" y="291" width="1" height="21" fill="#cc0000"/>
<rect x="573" y="299" width="4" height="3" fill="#cc0000"/>
<rect x="579" y="278" width="1" height="14" fill="#319a09"/>
<rect x="578" y="278" width="4" height="14" fill="#319a09"/>
<rect x="584" y="284" width="1" height="28" fill="#319a09"/>
<rect x="583" y="285" width="4" height="27" fill="#319a09"/>
<rect x="589" y="296" width="1" height="29" fill="#cc0000"/>
<rect x="588" y="299" width="4" height="15" fill="#cc0000"/>
<rect x="594" y="308" width="1" height="13" fill="#cc0000"/>
<rect x="593" y="317" width="4" height="2" fill="#cc0000"/>
<rect x="599" y="320" width="1" height="25" fill="#319a09"/>
<rect x="598" y="322" width="4" height="13" fill="#319a09"/>
<rect x="604" y="317" width="1" height="34" fill="#319a09"/>
<rect x="603" y="322" width="4" height="8" fill="#319a09"/>
<rect x="609" y="351" width="1" height="23" fill="#cc0000"/>
<rect x="608" y="358" width="4" height="13" fill="#cc0000"/>
<rect x="614" y="349" width="1" height="19" fill="#319a09"/>
<rect x="613" y="355" width="4" height="8" fill="#319a09"/>
<rect x="619" y="336" width="1" height="30" fill="#319a09"/>
<rect x="618" y="339" width="4" height="26" fill="#319a09"/>
<rect x="624" y="317" width="1" height="23" fill="#319a09"/>
<rect x="623" y="326" width="4" height="12" fill="#319a09"/>
<rect x="629" y="322" width="1" height="19" fill="#cc0000"/>
<rect x="628" y="338" width="4" height="3" fill="#cc0000"/>
<rect x="634" y="353" width="1" height="12" fill="#cc0000"/>
<rect x="633" y="359" width="4" height="3" fill="#cc0000"/>
<rect x="639" y="343" width="1" height="9" fill="#319a09"/>
<rect x="638" y="346" width="4" height="5" fill="#319a09"/>
<rect x="644" y="346" width="1" height="8" fill="#319a09"/>
<rect x="643" y="352" width="4" height="1" fill="#319a09"/>
<rect x="649" y="368" width="1" height="14" fill="#cc0000"/>
<rect x="648" y="368" width="4" height="6" fill="#cc0000"/>
<rect x="654" y="362" width="1" height="12" fill="#cc0000"/>
<rect x="653" y="366" width="4" height="7" fill="#cc0000"/>
<rect x="659" y="363" width="1" height="17" fill="#cc0000"/>
<rect x="658" y="369" width="4" height="9" fill="#cc0000"/>
<rect x="664" y="384" width="1" height="13" fill="#cc0000"/>
<rect x="663" y="388" width="4" height="1" fill="#cc0000"/>
<rect x="669" y="380" width="1" height="12" fill="#319a09"/>
<rect x="668" y="386" width="4" height="1" fill="#319a09"/>
<rect x="674" y="397" width="1" height="11" fill="#cc0000"/>
<rect x="673" y="403" width="4" height="3" fill="#cc0000"/>
<rect x="679" y="406" width="1" height="30" fill="#cc0000"/>
<rect x="678" y="408" width="4" height="20" fill="#cc0000"/>
<rect x="684" y="392" width="1" height="26" fill="#319a09"/>
<rect x="683" y="392" width="4" height="22" fill="#319a09"/>
<rect x="689" y="382" width="1" height="16" fill="#cc0000"/>
<rect x="688" y="382" width="4" height="3" fill="#cc0000"/>
<rect x="694" y="373" width="1" height="16" fill="#319a09"/>
<rect x="693" y="377" width="4" height="6" fill="#319a09"/>
<rect x="699" y="350" width="1" height="21" fill="#319a09"/>
<rect x="698" y="354" width="4" height="17" fill="#319a09"/>
<rect x="704" y="326" width="1" height="19" fill="#319a09"/>
<rect x="703" y="339" width="4" height="6" fill="#319a09"/>
<rect x="709" y="324" width="1" height="20" fill="#cc0000"/>
<rect x="708" y="325" width="4" height="15" fill="#cc0000"/>
<rect x="714" y="340" width="1" height="9" fill="#cc0000"/>
<rect x="713" y="343" width="4" height="3" fill="#cc0000"/>
<rect x="719" y="335" width="1" height="7" fill="#319a09"/>
<rect x="718" y="337" width="4" height="3" fill="#319a09"/>
<rect x="724" y="340" width="1" height="8" fill="#cc0000"/>
<rect x="723" y="342" width="4" height="3" fill="#cc0000"/>
<rect x="729" y="332" width="1" height="10" fill="#319a09"/>
<rect x="728" y="335" width="4" height="6" fill="#319a09"/>
<rect x="734" y="306" width="1" height="17" fill="#319a09"/>
<rect x="733" y="316" width="4" height="7" fill="#319a09"/>
<rect x="739" y="308" width="1" height="12" fill="#319a09"/>
<rect x="738" y="310" width="4" height="4" fill="#319a09"/>
<rect x="744" y="291" width="1" height="17" fill="#cc0000"/>
<rect x="743" y="292" width="4" height="7" fill="#cc0000"/>
<rect x="749" y="294" width="1" height="12" fill="#319a09"/>
<rect x="748" y="302" width="4" height="1" fill="#319a09"/>
<rect x="754" y="299" width="1" height="9" fill="#cc0000"/>
<rect x="753" y="300" width="4" height="7" fill="#cc0000"/>
<rect x="759" y="306" width="1" height="24" fill="#cc0000"/>
<rect x="758" y="306" width="4" height="23" fill="#cc0000"/>
<rect x="764" y="312" width="1" height="13" fill="#cc0000"/>
<rect x="763" y="319" width="4" height="6" fill="#cc0000"/>
<rect x="769" y="313" width="1" height="6" fill="#319a09"/>
<rect x="768" y="313" width="4" height="6" fill="#319a09"/>
<rect x="774" y="306" width="1" height="8" fill="#319a09"/>
<rect x="773" y="306" width="4" height="4" fill="#319a09"/>
<rect x="779" y="280" width="1" height="17" fill="#cc0000"/>
<rect x="778" y="281" width="4" height="11" fill="#cc0000"/>
<rect x="784" y="288" width="1" height="9" fill="#319a09"/>
<rect x="783" y="288" width="4" height="5" fill="#319a09"/>
<rect x="789" y="277" width="1" height="8" fill="#319a09"/>
<rect x="788" y="278" width="4" height="7" fill="#319a09"/>
<rect x="794" y="276" width="1" height="14" fill="#319a09"/>
<rect x="793" y="278" width="4" height="8" fill="#319a09"/>
<rect x="799" y="287" width="1" height="7" fill="#cc0000"/>
<rect x="798" y="287" width="4" height="4" fill="#cc0000"/>
<rect x="804" y="281" width="1" height="16" fill="#319a09"/>
<rect x="803" y="282" width="4" height="15" fill="#319a09"/>
<rect x="809" y="266" width="1" height="12" fill="#319a09"/>
<rect x="808" y="271" width="4" height="3" fill="#319a09"/>
<rect x="814" y="268" width="1" height="8" fill="#cc0000"/>
<rect x="813" y="268" width="4" height="5" fill="#cc0000"/>
<rect x="819" y="263" width="1" height="8" fill="#319a09"/>
<rect x="818" y="263" width="4" height="8" fill="#319a09"/>
<rect x="824" y="260" width="1" height="6" fill="#cc0000"/>
<rect x="823" y="260" width="4" height="2" fill="#cc0000"/>
<rect x="829" y="261" width="1" height="10" fill="#cc0000"/>
<rect x="828" y="262" width="4" height="6" fill="#cc0000"/>
<rect x="834" y="267" width="1" height="8" fill="#cc0000"/>
<rect x="833" y="267" width="4" height="7" fill="#cc0000"/>
<rect x="839" y="269" width="1" height="15" fill="#319a09"/>
<rect x="838" y="270" width="4" height="11" fill="#319a09"/>
<rect x="844" y="263" width="1" height="19" fill="#cc0000"/>
<rect x="843" y="264" width="4" height="18" fill="#cc0000"/>
<rect x="849" y="268" width="1" height="9" fill="#319a09"/>
<rect x="848" y="271" width="4" height="6" fill="#319a09"/>
<rect x="854" y="262" width="1" height="10" fill="#319a09"/>
<rect x="853" y="262" width="4" height="3" fill="#319a09"/>
<rect x="859" y="249" width="1" height="19" fill="#319a09"/>
<rect x="858" y="249" width="4" height="18" fill="#319a09"/>
<rect x="864" y="254" width="1" height="11" fill="#cc0000"/>
<rect x="863" y="254" width="4" height="11" fill="#cc0000"/>
<rect x="869" y="248" width="1" height="7" fill="#319a09"/>
<rect x="868" y="248" width="4" height="7" fill="#319a09"/>
<rect x="874" y="249" width="1" height="14" fill="#cc0000"/>
<rect x="873" y="249" width="4" height="7" fill="#cc0000"/>
<rect x="879" y="255" width="1" height="12" fill="#319a09"/>
<rect x="878" y="258" width="4" height="9" fill="#319a09"/>
<rect x="884" y="253" width="1" height="35" fill="#cc0000"/>
<rect x="883" y="254" width="4" height="23" fill="#cc0000"/>
<rect x="889" y="251" width="1" height="42" fill="#cc0000"/>
<rect x="888" y="273" width="4" height="14" fill="#cc0000"/>
<rect x="894" y="295" width="1" height="21" fill="#cc0000"/>
<rect x="893" y="298" width="4" height="10" fill="#cc0000"/>
<rect x="899" y="337" width="1" height="32" fill="#cc0000"/>
<rect x="898" y="339" width="4" height="19" fill="#cc0000"/>
<rect x="904" y="336" width="1" height="19" fill="#319a09"/>
<rect x="903" y="337" width="4" height="7" fill="#319a09"/>
<rect x="909" y="330" width="1" height="32" fill="#319a09"/>
<rect x="908" y="332" width="4" height="22" fill="#319a09"/>
<rect x="914" y="300" width="1" height="26" fill="#319a09"/>
<rect x="913" y="300" width="4" height="22" fill="#319a09"/>
<rect x="919" y="304" width="1" height="19" fill="#cc0000"/>
<rect x="918" y="308" width="4" height="8" fill="#cc0000"/>
<rect x="924" y="321" width="1" height="16" fill="#cc0000"/>
<rect x="923" y="324" width="4" height="9" fill="#cc0000"/>
<rect x="929" y="296" width="1" height="39" fill="#319a09"/>
<rect x="928" y="304" width="4" height="31" fill="#319a09"/>
<rect x="934" y="326" width="1" height="24" fill="#cc0000"/>
<rect x="933" y="329" width="4" height="20" fill="#cc0000"/>
<rect x="939" y="342" width="1" height="16" fill="#cc0000"/>
<rect x="938" y="345" width="4" height="5" fill="#cc0000"/>
<rect x="944" y="324" width="1" height="15" fill="#319a09"/>
<rect x="943" y="326" width="4" height="13" fill="#319a09"/>
<rect x="949" y="303" width="1" height="10" fill="#cc0000"/>
<rect x="948" y="306" width="4" height="2" fill="#cc0000"/>
<rect x="954" y="306" width="1" height="12" fill="#cc0000"/>
<rect x="953" y="309" width="4" height="9" fill="#cc0000"/>
<rect x="959" y="301" width="1" height="7" fill="#319a09"/>
<rect x="958" y="304" width="4" height="1" fill="#319a09"/>
<rect x="964" y="300" width="1" height="20" fill="#cc0000"/>
<rect x="963" y="300" width="4" height="10" fill="#cc0000"/>
<rect x="969" y="307" width="1" height="50" fill="#cc0000"/>
<rect x="968" y="317" width="4" height="36" fill="#cc0000"/>
<rect x="974" y="334" width="1" height="11" fill="#319a09"/>
<rect x="973" y="334" width="4" height="5" fill="#319a09"/>
<rect x="979" y="322" width="1" height="22" fill="#cc0000"/>
<rect x="978" y="323" width="4" height="16" fill="#cc0000"/>
<rect x="984" y="331" width="1" height="19" fill="#319a09"/>
<rect x="983" y="333" width="4" height="11" fill="#319a09"/>
<rect x="989" y="310" width="1" height="11" fill="#319a09"/>
<rect x="988" y="312" width="4" height="6" fill="#319a09"/>
<rect x="994" y="304" width="1" height="19" fill="#cc0000"/>
<rect x="993" y="305" width="4" height="10" fill="#cc0000"/>
<rect x="999" y="318" width="1" height="18" fill="#cc0000"/>
<rect x="998" y="325" width="4" height="6" fill="#cc0000"/>
<rect x="1004" y="311" width="1" height="9" fill="#319a09"/>
<rect x="1003" y="311" width="4" height="6" fill="#319a09"/>
<rect x="1009" y="283" width="1" height="14" fill="#319a09"/>
<rect x="1008" y="286" width="4" height="11" fill="#319a09"/>
<rect x="1014" y="283" width="1" height="7" fill="#cc0000"/>
<rect x="1013" y="285" width="4" height="5" fill="#cc0000"/>
<rect x="1019" y="284" width="1" height="14" fill="#cc0000"/>
<rect x="1018" y="284" width="4" height="8" fill="#cc0000"/>
<rect x="1024" y="292" width="1" height="15" fill="#319a09"/>
<rect x="1023" y="292" width="4" height="6" fill="#319a09"/>
<rect x="1029" y="277" width="1" height="16" fill="#319a09"/>
<rect x="1028" y="277" width="4" height="15" fill="#319a09"/>
<rect x="1034" y="263" width="1" height="13" fill="#cc0000"/>
<rect x="1033" y="270" width="4" height="3" fill="#cc0000"/>
<rect x="1039" y="269" width="1" height="10" fill="#cc0000"/>
<rect x="1038" y="273" width="4" height="4" fill="#cc0000"/>
<rect x="1044" y="278" width="1" height="8" fill="#319a09"/>
<rect x="1043" y="280" width="4" height="6" fill="#319a09"/>
<rect x="1049" y="274" width="1" height="8" fill="#319a09"/>
<rect x="1048" y="274" width="4" height="8" fill="#319a09"/>
<rect x="1054" y="275" width="1" height="17" fill="#319a09"/>
<rect x="1053" y="275" width="4" height="1" fill="#319a09"/>
<rect x="1059" y="265" width="1" height="11" fill="#cc0000"/>
<rect x="1058" y="272" width="4" height="3" fill="#cc0000"/>
<rect x="1064" y="271" width="1" height="21" fill="#cc0000"/>
<rect x="1063" y="274" width="4" height="13" fill="#cc0000"/>
<rect x="1069" y="283" width="1" height="9" fill="#319a09"/>
<rect x="1068" y="288" width="4" height="1" fill="#319a09"/>
<rect x="1074" y="279" width="1" height="35" fill="#cc0000"/>
<rect x="1073" y="281" width="4" height="28" fill="#cc0000"/>
<rect x="1079" y="290" width="1" height="30" fill="#319a09"/>
<rect x="1078" y="293" width="4" height="17" fill="#319a09"/>
<rect x="1084" y="294" width="1" height="16" fill="#cc0000"/>
<rect x="1083" y="295" width="4" height="7" fill="#cc0000"/>
<rect x="1089" y="298" width="1" height="30" fill="#cc0000"/>
<rect x="1088" y="299" width="4" height="20" fill="#cc0000"/>
<rect x="1094" y="305" width="1" height="12" fill="#319a09"/>
<rect x="1093" y="307" width="4" height="8" fill="#319a09"/>
<rect x="1099" y="296" width="1" height="29" fill="#cc0000"/>
<rect x="1098" y="302" width="4" height="23" fill="#cc0000"/>
<rect x="1104" y="334" width="1" height="20" fill="#cc0000"/>
<rect x="1103" y="334" width="4" height="13" fill="#cc0000"/>
<rect x="1109" y="330" width="1" height="32" fill="#319a09"/>
<rect x="1108" y="330" width="4" height="17" fill="#319a09"/>
<rect x="1114" y="310" width="1" height="16" fill="#319a09"/>
<rect x="1113" y="310" width="4" height="15" fill="#319a09"/>
<rect x="1119" y="305" width="1" height="14" fill="#cc0000"/>
<rect x="1118" y="315" width="4" height="1" fill="#cc0000"/>
<rect x="1124" y="321" width="1" height="19" fill="#cc0000"/>
<rect x="1123" y="326" width="4" height="14" fill="#cc0000"/>
<rect x="1129" y="320" width="1" height="11" fill="#319a09"/>
<rect x="1128" y="325" width="4" height="2" fill="#319a09"/>
<rect x="1134" y="312" width="1" height="14" fill="#319a09"/>
<rect x="1133" y="316" width="4" height="9" fill="#319a09"/>
<rect x="1139" y="286" width="1" height="14" fill="#319a09"/>
<rect x="1138" y="297" width="4" height="3" fill="#319a09"/>
<rect x="1144" y="296" width="1" height="5" fill="#319a09"/>
<rect x="1143" y="299" width="4" height="1" fill="#319a09"/>
<rect x="1149" y="278" width="1" height="17" fill="#319a09"/>
<rect x="1148" y="281" width="4" height="14" fill="#319a09"/>
<rect x="1154" y="282" width="1" height="8" fill="#319a09"/>
<rect x="1153" y="286" width="4" height="1" fill="#319a09"/>
<rect x="1159" y="275" width="1" height="9" fill="#cc0000"/>
<rect x="1158" y="275" width="4" height="5" fill="#cc0000"/>
<rect x="1164" y="279" width="1" height="20" fill="#cc0000"/>
<rect x="1163" y="280" width="4" height="12" fill="#cc0000"/>
<rect x="1169" y="278" width="1" height="8" fill="#319a09"/>
<rect x="1168" y="278" width="4" height="5" fill="#319a09"/>
<rect x="1174" y="273" width="1" height="17" fill="#cc0000"/>
<rect x="1173" y="273" width="4" height="17" fill="#cc0000"/>
<rect x="1179" y="286" width="1" height="7" fill="#319a09"/>
<rect x="1178" y="286" width="4" height="6" fill="#319a09"/>
<rect x="1184" y="275" width="1" height="8" fill="#319a09"/>
<rect x="1183" y="275" width="4" height="1" fill="#319a09"/>
<rect x="1189" y="262" width="1" height="19" fill="#319a09"/>
<rect x="1188" y="264" width="4" height="17" fill="#319a09"/>
<rect x="1194" y="248" width="1" height="9" fill="#319a09"/>
<rect x="1193" y="249" width="4" height="8" fill="#319a09"/>
<rect x="1199" y="251" width="1" height="8" fill="#cc0000"/>
<rect x="1198" y="251" width="4" height="8" fill="#cc0000"/>
<rect x="1204" y="252" width="1" height="13" fill="#319a09"/>
<rect x="1203" y="253" width="4" height="4" fill="#319a09"/>
<rect x="1209" y="249" width="1" height="15" fill="#cc0000"/>
<rect x="1208" y="252" width="4" height="4" fill="#cc0000"/>
<rect x="1214" y="238" width="1" height="11" fill="#319a09"/>
<rect x="1213" y="238" width="4" height="5" fill="#319a09"/>
<rect x="1219" y="226" width="1" height="6" fill="#cc0000"/>
<rect x="1218" y="227" width="4" height="2" fill="#cc0000"/>
<rect x="1224" y="226" width="1" height="6" fill="#cc0000"/>
<rect x="1223" y="227" width="4" height="2" fill="#cc0000"/>
<rect x="1229" y="231" width="1" height="8" fill="#cc0000"/>
<rect x="1228" y="231" width="4" height="3" fill="#cc0000"/>
<rect x="1234" y="221" width="1" height="11" fill="#cc0000"/>
<rect x="1233" y="226" width="4" height="4" fill="#cc0000"/>
<rect x="1239" y="222" width="1" height="13" fill="#319a09"/>
<rect x="1238" y="222" width="4" height="10" fill="#319a09"/>
<rect x="1244" y="224" width="1" height="7" fill="#319a09"/>
<rect x="1243" y="224" width="4" height="7" fill="#319a09"/>
<rect x="1249" y="216" width="1" height="8" fill="#319a09"/>
<rect x="1248" y="221" width="4" height="3" fill="#319a09"/>
<rect x="1254" y="219" width="1" height="7" fill="#319a09"/>
<rect x="1253" y="222" width="4" height="4" fill="#319a09"/>
<rect x="1259" y="221" width="1" height="7" fill="#319a09"/>
<rect x="1258" y="221" width="4" height="4" fill="#319a09"/>
<rect x="1264" y="210" width="1" height="6" fill="#319a09"/>
<rect x="1263" y="210" width="4" height="4" fill="#319a09"/>
</g>
<path d="M9.1 395.4 L34.8 395.4 L84.3 394.4 L104.3 395.4 L117.7 396.7 L137.8 400.4 L151.2 403.4 L173.9 406.3 L230 406.4 L274.8 406.4 L294.8 404.9 L316.4 402.5 L358.1 401.5 L392.1 401.5 L399.8 400.7 L419.8 399.8 L446.1 399.6 L450 399.7 L473.2 399.4 L499.4 398.1 L527.2 395.8 L550.3 394 L567.3 393 L581.2 392.4 L593.5 392.4 L601.3 391.5 L613.6 392.4 L624.4 391.7 L642.9 391.5 L650.6 392.4 L666.1 392.7 L670.3 393.4 L711.5 393.4 L723.8 395.4 L787.6 395.4 L804.1 394 L824.7 393.4 L849.4 393.4 L865.8 391.9 L886.4 388.6 L900 388.2 L941.7 385.9 L988 379.4 L1000.4 378.2 L1018.9 375.1 L1034.3 371.2 L1049.8 368.4 L1065.2 365.8 L1080 364.9 L1100.6 361.4 L1119.5 357.5 L1133.5 352.6 L1145.8 350.5 L1166.4 343.9 L1187 339.8 L1211.7 334 L1220 330.9 L1228.9 328.9 L1244.3 325.5 L1256.7 323 L1265.6 320.4" fill="none" stroke="#3c3c3c" stroke-width="1.05" stroke-linejoin="round"/>
<path d="M9 374.5 L20 380.5 L30 387 L34.8 390 L40.1 395.4 L64.2 406.7 L73.6 412.1 L84.3 418.8 L97.6 428.1 L111 439.5 L119.1 444.2 L127.1 452.2 L135.1 458.9 L144.5 464.2 L155.2 472.3 L161.9 475.6 L173.9 482.7 L191.3 486.3 L200 487.5 L208.3 489.6 L219.2 490.8 L229.2 494.6 L238.3 497.3 L250 498.3 L265 497.3 L275 494.2 L294.2 490.4 L315 489.3 L329.2 485.4 L349.2 478.3 L360 472.1 L364.3 469.7 L375.1 462.7 L389 451.9 L404.4 440.4 L415.2 431.1 L430.6 421.1 L446.1 413.3 L453.1 410 L473.2 398.9 L490.1 388.9 L508.7 378.1 L528.7 368.8 L542.6 361.1 L556.5 353.4 L573.5 347.2 L588.9 340 L604.3 335.6 L615.1 335.3 L624.4 332.5 L635.2 329.8 L644.5 328.2 L653.7 328.2 L666.1 329.5 L678.4 333.3 L694 334.7 L709.4 332.6 L732 333.7 L752.6 332.2 L767 333.2 L777.3 333.2 L804.1 332.2 L824.7 330.2 L845.3 328.5 L865.8 321.3 L886.4 313.7 L895.4 312.6 L915.5 309 L924.8 306.4 L932.5 302.5 L954.1 299.5 L964.9 298.2 L988 297.9 L997.3 299.1 L1011.2 299.1 L1022 297.6 L1039 297.4 L1049.8 296.4 L1060.6 296.4 L1071.4 297.9 L1090 300.4 L1099.3 302.4 L1110.1 305.8 L1120.9 308.1 L1131.7 310.9 L1140.9 311.5 L1148.7 310.9 L1157.9 307.6 L1170.3 307 L1182.6 305 L1195 301.4 L1204.2 298.8 L1215 296.5 L1224.3 291.9 L1235.1 287.5 L1245.9 283.4 L1253.6 280 L1259.8 278.4 L1265.6 277.5" fill="none" stroke="#1f4fa8" stroke-width="1.25" stroke-linejoin="round"/>
<path d="M10 426.9 L15 428.9 L20 434.4 L25 442.8 L30 453.6 L35 464.3 L40 470.1 L45 472.2 L50 470.6 L55 468.1 L60 466.8 L65 463.4 L70 461.1 L75 455.9 L80 456.1 L85 454.6 L90 455.6 L95 455.5 L100 459.5 L105 466.1 L110 476.5 L115 488.3 L120 497.7 L125 509.6 L130 521 L135 535.9 L140 544.4 L145 553.6 L150 562.3 L155 567.3 L160 568.7 L165 574.6 L170 572.6 L175 567.3 L180 557.1 L185 543.3 L190 535.6 L195 528.5 L200 522.7 L205 515.7 L210 509.1 L215 497.8 L220 490.3 L225 486.8 L230 484.6 L235 482.5 L240 479.3 L245 477.3 L250 475.1 L255 472.2 L260 467.8 L265 464.5 L270 461.1 L275 454.2 L280 447.9 L285 444.1 L290 441.7 L295 437.8 L300 430.8 L305 426.7 L310 424 L315 420.2 L320 417.7 L325 416.2 L330 414.7 L335 410.3 L340 405.7 L345 401.2 L350 398.6 L355 396.5 L360 393.5 L365 391.7 L370 390.1 L375 389.8 L380 390.4 L385 392.6 L390 392.5 L395 391.9 L400 390.3 L405 388.6 L410 386.8 L415 384.3 L420 381.6 L425 377.5 L430 369.9 L435 365.8 L440 364.4 L445 362.6 L450 362.7 L455 362 L460 361.4 L465 359.3 L470 357 L475 354 L480 353.2 L485 347.7 L490 342 L495 338.2 L500 332.4 L505 327.4 L510 322.8 L515 320.3 L520 317.5 L525 315.8 L530 313.9 L535 312.6 L540 309.6 L545 306.1 L550 303.3 L555 299.7 L560 296.5 L565 294.3 L570 293.4 L575 292.7 L580 289.6 L585 287.6 L590 290.5 L595 293.4 L600 297 L605 301.1 L610 310.4 L615 316.9 L620 320.9 L625 323.3 L630 329.5 L635 337.1 L640 340.3 L645 343.6 L650 348.8 L655 354 L660 354.7 L665 358 L670 362.7 L675 370.8 L680 379.5 L685 382.5 L690 386.4 L695 388.9 L700 386.9 L705 383.4 L710 379.6 L715 375.3 L720 370.4 L725 364.3 L730 355 L735 347.4 L740 339.9 L745 332.1 L750 326.9 L755 323.6 L760 322.5 L765 320.4 L770 318.1 L775 314.2 L780 309.9 L785 307.1 L790 303.8 L795 301.7 L800 300.6 L805 298.2 L810 292.4 L815 287.2 L820 282.2 L825 277.8 L830 275.4 L835 274 L840 273.2 L845 273.6 L850 271.6 L855 269.6 L860 267.4 L865 266.6 L870 265 L875 264.5 L880 263.5 L885 263.8 L890 265.5 L895 268.1 L900 276.8 L905 284.3 L910 292.5 L915 296.1 L920 302.9 L925 310.5 L930 315.1 L935 322.4 L940 328.6 L945 330.4 L950 325.4 L955 323.5 L960 320.7 L965 321.7 L970 325.4 L975 325.5 L980 329 L985 327.4 L990 323.6 L995 322.5 L1000 324.8 L1005 324.2 L1010 322.4 L1015 320.4 L1020 314.3 L1025 310.1 L1030 304 L1035 298 L1040 294.4 L1045 291 L1050 285.3 L1055 281.7 L1060 280.6 L1065 280.3 L1070 279.8 L1075 281.4 L1080 283 L1085 286 L1090 290.2 L1095 292.9 L1100 297.9 L1105 305.1 L1110 310.6 L1115 313 L1120 315.7 L1125 318.8 L1130 322 L1135 323.4 L1140 321.3 L1145 320.5 L1150 316.2 L1155 310.1 L1160 305 L1165 303.1 L1170 299.4 L1175 294.4 L1180 290.5 L1185 286.4 L1190 283.1 L1195 278.1 L1200 275.8 L1205 272.5 L1210 270.2 L1215 264.8 L1220 259.9 L1225 253.8 L1230 248.5 L1235 244.1 L1240 239.9 L1245 237.4 L1250 233.6 L1255 230.4 L1260 227 L1265 224.2" fill="none" stroke="#40a518" stroke-width="1.3" stroke-linejoin="round"/>
<rect x="868" y="243" width="552" height="5" fill="#94d8e8"/>
<g shape-rendering="crispEdges">
<rect x="7" y="794" width="3" height="2" fill="#00ff00"/>
<rect x="12" y="793" width="3" height="3" fill="#00ff00"/>
<rect x="17" y="797" width="3" height="4" fill="#ff0000"/>
<rect x="22" y="797" width="3" height="11" fill="#ff0000"/>
<rect x="27" y="797" width="3" height="13" fill="#ff0000"/>
<rect x="32" y="797" width="3" height="14" fill="#ff0000"/>
<rect x="37" y="797" width="3" height="8" fill="#800000"/>
<rect x="42" y="797" width="3" height="3" fill="#800000"/>
<rect x="47" y="789" width="3" height="7" fill="#00ff00"/>
<rect x="52" y="782" width="3" height="14" fill="#00ff00"/>
<rect x="57" y="777" width="3" height="19" fill="#00ff00"/>
<rect x="62" y="770" width="3" height="26" fill="#00ff00"/>
<rect x="67" y="776" width="3" height="20" fill="#006400"/>
<rect x="72" y="780" width="3" height="16" fill="#006400"/>
<rect x="77" y="790" width="3" height="6" fill="#006400"/>
<rect x="82" y="794" width="3" height="2" fill="#006400"/>
<rect x="87" y="797" width="3" height="1" fill="#ff0000"/>
<rect x="97" y="795" width="3" height="1" fill="#00ff00"/>
<rect x="102" y="797" width="3" height="4" fill="#ff0000"/>
<rect x="107" y="797" width="3" height="12" fill="#ff0000"/>
<rect x="112" y="797" width="3" height="15" fill="#ff0000"/>
<rect x="117" y="797" width="3" height="20" fill="#ff0000"/>
<rect x="122" y="797" width="3" height="26" fill="#ff0000"/>
<rect x="127" y="797" width="3" height="34" fill="#ff0000"/>
<rect x="132" y="797" width="3" height="42" fill="#ff0000"/>
<rect x="137" y="797" width="3" height="31" fill="#800000"/>
<rect x="142" y="797" width="3" height="21" fill="#800000"/>
<rect x="147" y="797" width="3" height="13" fill="#800000"/>
<rect x="152" y="797" width="3" height="5" fill="#800000"/>
<rect x="157" y="793" width="3" height="3" fill="#00ff00"/>
<rect x="162" y="795" width="3" height="1" fill="#006400"/>
<rect x="167" y="786" width="3" height="10" fill="#00ff00"/>
<rect x="172" y="777" width="3" height="19" fill="#00ff00"/>
<rect x="177" y="769" width="3" height="27" fill="#00ff00"/>
<rect x="182" y="763" width="3" height="33" fill="#00ff00"/>
<rect x="187" y="759" width="3" height="37" fill="#00ff00"/>
<rect x="192" y="758" width="3" height="38" fill="#00ff00"/>
<rect x="197" y="762" width="3" height="34" fill="#006400"/>
<rect x="202" y="761" width="3" height="35" fill="#00ff00"/>
<rect x="207" y="762" width="3" height="34" fill="#006400"/>
<rect x="212" y="763" width="3" height="33" fill="#006400"/>
<rect x="217" y="762" width="3" height="34" fill="#00ff00"/>
<rect x="222" y="768" width="3" height="28" fill="#006400"/>
<rect x="227" y="773" width="3" height="23" fill="#006400"/>
<rect x="232" y="776" width="3" height="20" fill="#006400"/>
<rect x="237" y="776" width="3" height="20" fill="#00ff00"/>
<rect x="242" y="779" width="3" height="17" fill="#006400"/>
<rect x="247" y="785" width="3" height="11" fill="#006400"/>
<rect x="252" y="783" width="3" height="13" fill="#00ff00"/>
<rect x="257" y="780" width="3" height="16" fill="#00ff00"/>
<rect x="262" y="780" width="3" height="16" fill="#00ff00"/>
<rect x="267" y="778" width="3" height="18" fill="#00ff00"/>
<rect x="272" y="776" width="3" height="20" fill="#00ff00"/>
<rect x="277" y="778" width="3" height="18" fill="#006400"/>
<rect x="282" y="783" width="3" height="13" fill="#006400"/>
<rect x="287" y="787" width="3" height="9" fill="#006400"/>
<rect x="292" y="790" width="3" height="6" fill="#006400"/>
<rect x="297" y="789" width="3" height="7" fill="#00ff00"/>
<rect x="302" y="789" width="3" height="7" fill="#006400"/>
<rect x="307" y="790" width="3" height="6" fill="#006400"/>
<rect x="312" y="789" width="3" height="7" fill="#00ff00"/>
<rect x="317" y="790" width="3" height="6" fill="#006400"/>
<rect x="322" y="791" width="3" height="5" fill="#006400"/>
<rect x="327" y="793" width="3" height="3" fill="#006400"/>
<rect x="332" y="793" width="3" height="3" fill="#00ff00"/>
<rect x="337" y="793" width="3" height="3" fill="#00ff00"/>
<rect x="342" y="794" width="3" height="2" fill="#006400"/>
<rect x="347" y="795" width="3" height="1" fill="#006400"/>
<rect x="352" y="797" width="3" height="1" fill="#ff0000"/>
<rect x="362" y="797" width="3" height="1" fill="#ff0000"/>
<rect x="367" y="797" width="3" height="3" fill="#ff0000"/>
<rect x="372" y="797" width="3" height="6" fill="#ff0000"/>
<rect x="377" y="797" width="3" height="12" fill="#ff0000"/>
<rect x="382" y="797" width="3" height="15" fill="#ff0000"/>
<rect x="387" y="797" width="3" height="12" fill="#800000"/>
<rect x="392" y="797" width="3" height="9" fill="#800000"/>
<rect x="397" y="797" width="3" height="5" fill="#800000"/>
<rect x="402" y="797" width="3" height="4" fill="#800000"/>
<rect x="412" y="794" width="3" height="2" fill="#00ff00"/>
<rect x="417" y="793" width="3" height="3" fill="#00ff00"/>
<rect x="422" y="793" width="3" height="3" fill="#00ff00"/>
<rect x="427" y="790" width="3" height="6" fill="#00ff00"/>
<rect x="432" y="795" width="3" height="1" fill="#006400"/>
<rect x="437" y="797" width="3" height="3" fill="#ff0000"/>
<rect x="442" y="797" width="3" height="4" fill="#ff0000"/>
<rect x="447" y="797" width="3" height="7" fill="#ff0000"/>
<rect x="452" y="797" width="3" height="7" fill="#ff0000"/>
<rect x="457" y="797" width="3" height="6" fill="#800000"/>
<rect x="462" y="797" width="3" height="2" fill="#800000"/>
<rect x="467" y="795" width="3" height="1" fill="#00ff00"/>
<rect x="472" y="792" width="3" height="4" fill="#00ff00"/>
<rect x="477" y="791" width="3" height="5" fill="#00ff00"/>
<rect x="482" y="789" width="3" height="7" fill="#00ff00"/>
<rect x="487" y="788" width="3" height="8" fill="#00ff00"/>
<rect x="492" y="791" width="3" height="5" fill="#006400"/>
<rect x="497" y="791" width="3" height="5" fill="#006400"/>
<rect x="502" y="792" width="3" height="4" fill="#006400"/>
<rect x="507" y="792" width="3" height="4" fill="#006400"/>
<rect x="512" y="794" width="3" height="2" fill="#006400"/>
<rect x="517" y="794" width="3" height="2" fill="#006400"/>
<rect x="522" y="795" width="3" height="1" fill="#006400"/>
<rect x="527" y="797" width="3" height="1" fill="#ff0000"/>
<rect x="532" y="797" width="3" height="1" fill="#ff0000"/>
<rect x="537" y="794" width="3" height="2" fill="#00ff00"/>
<rect x="542" y="794" width="3" height="2" fill="#00ff00"/>
<rect x="547" y="794" width="3" height="2" fill="#00ff00"/>
<rect x="552" y="793" width="3" height="3" fill="#00ff00"/>
<rect x="557" y="793" width="3" height="3" fill="#00ff00"/>
<rect x="567" y="797" width="3" height="4" fill="#ff0000"/>
<rect x="572" y="797" width="3" height="7" fill="#ff0000"/>
<rect x="577" y="797" width="3" height="5" fill="#800000"/>
<rect x="582" y="797" width="3" height="5" fill="#ff0000"/>
<rect x="587" y="797" width="3" height="11" fill="#ff0000"/>
<rect x="592" y="797" width="3" height="15" fill="#ff0000"/>
<rect x="597" y="797" width="3" height="18" fill="#ff0000"/>
<rect x="602" y="797" width="3" height="20" fill="#ff0000"/>
<rect x="607" y="797" width="3" height="29" fill="#ff0000"/>
<rect x="612" y="797" width="3" height="30" fill="#ff0000"/>
<rect x="617" y="797" width="3" height="27" fill="#800000"/>
<rect x="622" y="797" width="3" height="21" fill="#800000"/>
<rect x="627" y="797" width="3" height="19" fill="#800000"/>
<rect x="632" y="797" width="3" height="21" fill="#ff0000"/>
<rect x="637" y="797" width="3" height="18" fill="#800000"/>
<rect x="642" y="797" width="3" height="16" fill="#800000"/>
<rect x="647" y="797" width="3" height="19" fill="#ff0000"/>
<rect x="652" y="797" width="3" height="19" fill="#ff0000"/>
<rect x="657" y="797" width="3" height="19" fill="#800000"/>
<rect x="662" y="797" width="3" height="19" fill="#ff0000"/>
<rect x="667" y="797" width="3" height="18" fill="#800000"/>
<rect x="672" y="797" width="3" height="20" fill="#ff0000"/>
<rect x="677" y="797" width="3" height="23" fill="#ff0000"/>
<rect x="682" y="797" width="3" height="17" fill="#800000"/>
<rect x="687" y="797" width="3" height="11" fill="#800000"/>
<rect x="692" y="797" width="3" height="5" fill="#800000"/>
<rect x="697" y="792" width="3" height="4" fill="#00ff00"/>
<rect x="702" y="783" width="3" height="13" fill="#00ff00"/>
<rect x="707" y="778" width="3" height="18" fill="#00ff00"/>
<rect x="712" y="776" width="3" height="20" fill="#00ff00"/>
<rect x="717" y="774" width="3" height="22" fill="#00ff00"/>
<rect x="722" y="776" width="3" height="20" fill="#006400"/>
<rect x="727" y="775" width="3" height="21" fill="#00ff00"/>
<rect x="732" y="773" width="3" height="23" fill="#00ff00"/>
<rect x="737" y="771" width="3" height="25" fill="#00ff00"/>
<rect x="742" y="769" width="3" height="27" fill="#00ff00"/>
<rect x="747" y="769" width="3" height="27" fill="#006400"/>
<rect x="752" y="772" width="3" height="24" fill="#006400"/>
<rect x="757" y="780" width="3" height="16" fill="#006400"/>
<rect x="762" y="784" width="3" height="12" fill="#006400"/>
<rect x="767" y="786" width="3" height="10" fill="#006400"/>
<rect x="772" y="786" width="3" height="10" fill="#006400"/>
<rect x="777" y="785" width="3" height="11" fill="#00ff00"/>
<rect x="782" y="784" width="3" height="12" fill="#00ff00"/>
<rect x="787" y="782" width="3" height="14" fill="#00ff00"/>
<rect x="792" y="782" width="3" height="14" fill="#006400"/>
<rect x="797" y="786" width="3" height="10" fill="#006400"/>
<rect x="802" y="787" width="3" height="9" fill="#006400"/>
<rect x="807" y="787" width="3" height="9" fill="#00ff00"/>
<rect x="812" y="788" width="3" height="8" fill="#006400"/>
<rect x="817" y="788" width="3" height="8" fill="#00ff00"/>
<rect x="822" y="788" width="3" height="8" fill="#006400"/>
<rect x="827" y="790" width="3" height="6" fill="#006400"/>
<rect x="832" y="793" width="3" height="3" fill="#006400"/>
<rect x="842" y="797" width="3" height="3" fill="#ff0000"/>
<rect x="847" y="797" width="3" height="4" fill="#ff0000"/>
<rect x="852" y="797" width="3" height="3" fill="#800000"/>
<rect x="862" y="797" width="3" height="2" fill="#ff0000"/>
<rect x="872" y="797" width="3" height="1" fill="#ff0000"/>
<rect x="877" y="797" width="3" height="2" fill="#ff0000"/>
<rect x="882" y="797" width="3" height="7" fill="#ff0000"/>
<rect x="887" y="797" width="3" height="12" fill="#ff0000"/>
<rect x="892" y="797" width="3" height="19" fill="#ff0000"/>
<rect x="897" y="797" width="3" height="31" fill="#ff0000"/>
<rect x="902" y="797" width="3" height="34" fill="#ff0000"/>
<rect x="907" y="797" width="3" height="33" fill="#800000"/>
<rect x="912" y="797" width="3" height="25" fill="#800000"/>
<rect x="917" y="797" width="3" height="22" fill="#800000"/>
<rect x="922" y="797" width="3" height="22" fill="#800000"/>
<rect x="927" y="797" width="3" height="15" fill="#800000"/>
<rect x="932" y="797" width="3" height="19" fill="#ff0000"/>
<rect x="937" y="797" width="3" height="20" fill="#ff0000"/>
<rect x="942" y="797" width="3" height="15" fill="#800000"/>
<rect x="947" y="797" width="3" height="7" fill="#800000"/>
<rect x="952" y="797" width="3" height="4" fill="#800000"/>
<rect x="957" y="795" width="3" height="1" fill="#00ff00"/>
<rect x="962" y="793" width="3" height="3" fill="#00ff00"/>
<rect x="967" y="797" width="3" height="3" fill="#ff0000"/>
<rect x="972" y="797" width="3" height="3" fill="#ff0000"/>
<rect x="977" y="797" width="3" height="4" fill="#ff0000"/>
<rect x="982" y="797" width="3" height="3" fill="#800000"/>
<rect x="987" y="794" width="3" height="2" fill="#00ff00"/>
<rect x="992" y="791" width="3" height="5" fill="#00ff00"/>
<rect x="997" y="792" width="3" height="4" fill="#006400"/>
<rect x="1002" y="790" width="3" height="6" fill="#00ff00"/>
<rect x="1007" y="783" width="3" height="13" fill="#00ff00"/>
<rect x="1012" y="780" width="3" height="16" fill="#00ff00"/>
<rect x="1017" y="780" width="3" height="16" fill="#00ff00"/>
<rect x="1022" y="780" width="3" height="16" fill="#006400"/>
<rect x="1027" y="778" width="3" height="18" fill="#00ff00"/>
<rect x="1032" y="777" width="3" height="19" fill="#00ff00"/>
<rect x="1037" y="778" width="3" height="18" fill="#006400"/>
<rect x="1042" y="781" width="3" height="15" fill="#006400"/>
<rect x="1047" y="782" width="3" height="14" fill="#006400"/>
<rect x="1052" y="784" width="3" height="12" fill="#006400"/>
<rect x="1057" y="786" width="3" height="10" fill="#006400"/>
<rect x="1062" y="790" width="3" height="6" fill="#006400"/>
<rect x="1067" y="793" width="3" height="3" fill="#006400"/>
<rect x="1072" y="797" width="3" height="3" fill="#ff0000"/>
<rect x="1077" y="797" width="3" height="4" fill="#ff0000"/>
<rect x="1082" y="797" width="3" height="7" fill="#ff0000"/>
<rect x="1087" y="797" width="3" height="11" fill="#ff0000"/>
<rect x="1092" y="797" width="3" height="11" fill="#ff0000"/>
<rect x="1097" y="797" width="3" height="14" fill="#ff0000"/>
<rect x="1102" y="797" width="3" height="19" fill="#ff0000"/>
<rect x="1107" y="797" width="3" height="19" fill="#800000"/>
<rect x="1112" y="797" width="3" height="13" fill="#800000"/>
<rect x="1117" y="797" width="3" height="10" fill="#800000"/>
<rect x="1122" y="797" width="3" height="12" fill="#ff0000"/>
<rect x="1127" y="797" width="3" height="10" fill="#800000"/>
<rect x="1132" y="797" width="3" height="7" fill="#800000"/>
<rect x="1142" y="793" width="3" height="3" fill="#00ff00"/>
<rect x="1147" y="787" width="3" height="9" fill="#00ff00"/>
<rect x="1152" y="785" width="3" height="11" fill="#00ff00"/>
<rect x="1157" y="783" width="3" height="13" fill="#00ff00"/>
<rect x="1162" y="784" width="3" height="12" fill="#006400"/>
<rect x="1167" y="783" width="3" height="13" fill="#00ff00"/>
<rect x="1172" y="786" width="3" height="10" fill="#006400"/>
<rect x="1177" y="787" width="3" height="9" fill="#006400"/>
<rect x="1182" y="786" width="3" height="10" fill="#00ff00"/>
<rect x="1187" y="784" width="3" height="12" fill="#00ff00"/>
<rect x="1192" y="781" width="3" height="15" fill="#00ff00"/>
<rect x="1197" y="782" width="3" height="14" fill="#006400"/>
<rect x="1202" y="782" width="3" height="14" fill="#006400"/>
<rect x="1207" y="784" width="3" height="12" fill="#006400"/>
<rect x="1212" y="782" width="3" height="14" fill="#00ff00"/>
<rect x="1217" y="781" width="3" height="15" fill="#00ff00"/>
<rect x="1222" y="781" width="3" height="15" fill="#006400"/>
<rect x="1227" y="783" width="3" height="13" fill="#006400"/>
<rect x="1232" y="785" width="3" height="11" fill="#006400"/>
<rect x="1237" y="785" width="3" height="11" fill="#006400"/>
<rect x="1242" y="787" width="3" height="9" fill="#006400"/>
<rect x="1247" y="788" width="3" height="8" fill="#006400"/>
<rect x="1252" y="790" width="3" height="6" fill="#006400"/>
<rect x="1257" y="792" width="3" height="4" fill="#006400"/>
<rect x="1262" y="792" width="3" height="4" fill="#00ff00"/>
</g>
<path d="M5 796.5H1806" stroke="#7a1ab0" stroke-width="1" shape-rendering="crispEdges"/>
<path d="M10 850 L15 849.3 L20 850.3 L25 853.1 L30 856.3 L35 859.7 L40 861.7 L45 862.5 L50 860.7 L55 857.3 L60 852.5 L65 846.1 L70 841.2 L75 837.1 L80 835.5 L85 835.1 L90 835.3 L95 835.1 L100 835 L105 836 L110 839 L115 842.7 L120 847.8 L125 854.3 L130 862.8 L135 873.1 L140 880.9 L145 886.2 L150 889.5 L155 890.6 L160 890 L165 889.7 L170 887.1 L175 882.3 L180 875.5 L185 867.2 L190 858 L195 848.6 L200 840 L205 831.4 L210 823 L215 814.6 L220 806.1 L225 799.2 L230 793.4 L235 788.4 L240 783.3 L245 779.1 L250 776.2 L255 773 L260 769.1 L265 765.1 L270 760.6 L275 755.7 L280 751.1 L285 747.8 L290 745.5 L295 744 L300 742.3 L305 740.6 L310 739.1 L315 737.4 L320 735.9 L325 734.6 L330 733.9 L335 733.2 L340 732.5 L345 731.9 L350 731.5 L355 731.6 L360 731.7 L365 732.1 L370 732.8 L375 734.4 L380 737.3 L385 741.2 L390 744.2 L395 746.5 L400 747.8 L405 748.6 L410 748.8 L415 748.4 L420 747.7 L425 746.9 L430 745.3 L435 745.1 L440 745.9 L445 746.9 L450 748.6 L455 750.5 L460 752 L465 752.3 L470 752 L475 750.9 L480 749.6 L485 747.9 L490 746 L495 744.6 L500 743.3 L505 742.3 L510 741.3 L515 740.7 L520 740.2 L525 740 L530 740.2 L535 740.5 L540 740.1 L545 739.6 L550 739 L555 738.3 L560 737.6 L565 737.6 L570 738.5 L575 740.3 L580 741.5 L585 742.8 L590 745.5 L595 749.3 L600 753.9 L605 758.8 L610 766 L615 773.6 L620 780.4 L625 785.6 L630 790.4 L635 795.7 L640 800.2 L645 804.3 L650 809 L655 813.6 L660 818.3 L665 823.1 L670 827.5 L675 832.4 L680 838.3 L685 842.6 L690 845.4 L695 846.5 L700 845.4 L705 842.1 L710 837.6 L715 832.7 L720 827.3 L725 822.2 L730 817 L735 811.1 L740 804.8 L745 798 L750 791.4 L755 785.5 L760 781.4 L765 778.4 L770 775.9 L775 773.5 L780 770.7 L785 767.6 L790 764.1 L795 760.6 L800 758 L805 755.8 L810 753.5 L815 751.5 L820 749.4 L825 747.3 L830 745.8 L835 745.2 L840 745.1 L845 745.9 L850 746.9 L855 747.7 L860 747.8 L865 748.3 L870 748.3 L875 748.6 L880 749.1 L885 750.9 L890 753.8 L895 758.4 L900 766.3 L905 774.8 L910 783.2 L915 789.5 L920 795 L925 800.5 L930 804.3 L935 809 L940 813.9 L945 817.7 L950 819.5 L955 820.5 L960 820.3 L965 819.5 L970 820.3 L975 821.1 L980 822.2 L985 822.9 L990 822.4 L995 821.1 L1000 820.2 L1005 818.6 L1010 815.4 L1015 811.5 L1020 807.5 L1025 803.5 L1030 799.1 L1035 794.4 L1040 790 L1045 786.2 L1050 782.6 L1055 779.6 L1060 777 L1065 775.4 L1070 774.6 L1075 775.4 L1080 776.5 L1085 778.2 L1090 781 L1095 783.8 L1100 787.3 L1105 792.1 L1110 796.8 L1115 800.1 L1120 802.7 L1125 805.8 L1130 808.4 L1135 810.1 L1140 810.1 L1145 809.3 L1150 807 L1155 804.2 L1160 800.8 L1165 797.8 L1170 794.7 L1175 792 L1180 789.8 L1185 787.3 L1190 784.4 L1195 780.7 L1200 777.1 L1205 773.6 L1210 770.6 L1215 767.1 L1220 763.3 L1225 759.5 L1230 756.2 L1235 753.3 L1240 750.6 L1245 748.4 L1250 746.4 L1255 744.9 L1260 743.9 L1265 742.9" fill="none" stroke="#b23434" stroke-width="1.1" stroke-linejoin="round"/>
<path d="M10 847.7 L15 846.4 L20 854.1 L25 864.4 L30 869.1 L35 873.2 L40 869.6 L45 865.8 L50 853.4 L55 843.8 L60 833.4 L65 820.2 L70 821.6 L75 820.8 L80 829.3 L85 833.5 L90 835.9 L95 834.6 L100 834.3 L105 840.1 L110 851 L115 857.5 L120 868.2 L125 880.1 L130 896.8 L135 914.7 L140 911.9 L145 907.4 L150 902.5 L155 895.4 L160 887.2 L165 888.5 L170 876.7 L175 863.1 L180 848.5 L185 834 L190 821 L195 811 L200 805.9 L205 796.8 L210 789.2 L215 781.3 L220 772.2 L225 771.2 L230 770.6 L235 768.1 L240 762.8 L245 762.3 L250 764.7 L255 760.4 L260 753.3 L265 749 L270 742.7 L275 736 L280 732.9 L285 734.6 L290 736.2 L295 738 L300 735.3 L305 733.9 L310 732.9 L315 730.8 L320 729.6 L325 729.4 L330 731.4 L335 730.4 L340 729.4 L345 729.4 L350 730 L355 732.3 L360 732.1 L365 733.6 L370 735.7 L375 740.9 L380 749 L385 756.5 L390 756.5 L395 755.5 L400 752.9 L405 752.2 L410 749.3 L415 746.7 L420 745 L425 743.9 L430 738.9 L435 744.2 L440 749.1 L445 751.2 L450 755.3 L455 757.9 L460 757.8 L465 753.9 L470 750.7 L475 746.6 L480 744.3 L485 740.9 L490 738.4 L495 739.1 L500 737.8 L505 738.4 L510 737.6 L515 738.2 L520 738.3 L525 739.3 L530 740.8 L535 741.7 L540 738.5 L545 737.5 L550 736.7 L555 735.5 L560 734.6 L565 737.5 L570 742.3 L575 747.4 L580 746.4 L585 747.9 L590 756.4 L595 764.6 L600 772.2 L605 778.4 L610 794.9 L615 804.1 L620 807.3 L625 806.7 L630 809.6 L635 816.6 L640 818.3 L645 820.7 L650 827.6 L655 832.4 L660 836.9 L665 842.3 L670 845.3 L675 852 L680 861.6 L685 860.1 L690 856.5 L695 851.1 L700 840.9 L705 829 L710 819.4 L715 813 L720 805.7 L725 801.8 L730 796.3 L735 787.6 L740 779.6 L745 770.8 L750 764.9 L755 761.8 L760 764.9 L765 766.8 L770 765.8 L775 763.9 L780 759.2 L785 755.3 L790 750.2 L795 746.8 L800 747.7 L805 746.9 L810 744.4 L815 743.3 L820 740.9 L825 739.2 L830 740 L835 742.7 L840 744.5 L845 749.3 L850 751 L855 750.8 L860 748.2 L865 750.3 L870 748.5 L875 749.5 L880 751.4 L885 757.8 L890 765.6 L895 776.9 L900 797.7 L905 809 L910 816.6 L915 814.9 L920 817 L925 822.3 L930 819.6 L935 827.7 L940 833.8 L945 832.6 L950 827 L955 824.6 L960 819.3 L965 816.2 L970 823.5 L975 824.6 L980 826.2 L985 825.8 L990 820.3 L995 816.3 L1000 816.6 L1005 812.2 L1010 802.6 L1015 795.9 L1020 791.3 L1025 787.7 L1030 781.5 L1035 775.7 L1040 772.4 L1045 770.8 L1050 768.5 L1055 767.3 L1060 766.5 L1065 769 L1070 771.5 L1075 778.7 L1080 780.9 L1085 784.9 L1090 792.1 L1095 795 L1100 801.4 L1105 811.5 L1110 815.4 L1115 813.6 L1120 813.1 L1125 818.3 L1130 818.7 L1135 816.7 L1140 810.4 L1145 805.8 L1150 798 L1155 792.8 L1160 787.3 L1165 786 L1170 781.9 L1175 781.6 L1180 780.7 L1185 777.5 L1190 772.8 L1195 765.7 L1200 762.9 L1205 759.7 L1210 758.2 L1215 753.4 L1220 748 L1225 744.2 L1230 743.1 L1235 741.9 L1240 739.8 L1245 739.2 L1250 738.6 L1255 739 L1260 739.9 L1265 738.7" fill="none" stroke="#404040" stroke-width="1.1" stroke-linejoin="round"/>
<ellipse cx="1227.5" cy="746.5" rx="90" ry="88" fill="none" stroke="#b2e21f" stroke-width="5"/>
</svg>
<div class="abs" style="left:5px;top:698px;width:1805px;height:23px;"><div class="hc" style="left:0px;width:261px;color:#333;height:23px"><span style="letter-spacing:0.16px">MACD (12, 26, 9, EXPONENTIAL, no)</span></div><div class="hc" style="left:261px;width:61px;color:#333;height:23px">109.776</div><div class="hc" style="left:322px;width:61px;color:#a83030;height:23px">101.892</div><div class="hc" style="left:383px;width:61px;color:#1fd01f;height:23px">7.88352</div><div class="hc" style="left:444px;width:17px;color:#6a20a8;height:23px">0</div></div>
<div class="yl" style="top:156.0px">8800</div>
<div class="yl" style="top:192.0px">8600</div>
<div class="yl" style="top:228.0px">8400</div>
<div class="yl" style="top:264.0px">8200</div>
<div class="yl" style="top:300.0px">8000</div>
<div class="yl" style="top:336.0px">7800</div>
<div class="yl" style="top:372.0px">7600</div>
<div class="yl" style="top:408.0px">7400</div>
<div class="yl" style="top:444.0px">7200</div>
<div class="yl" style="top:480.0px">7000</div>
<div class="yl" style="top:516.0px">6800</div>
<div class="yl" style="top:552.0px">6600</div>
<div class="yl" style="top:588.0px">6400</div>
<div class="yl" style="top:624.0px">6200</div>
<div class="yl" style="top:660.0px">6000</div>
<div class="yl" style="top:736.0px">100</div>
<div class="yl" style="top:789.0px">0</div>
<div class="yl" style="top:841.0px">-100</div>
<div class="yl" style="top:894.0px">-200</div>
<div class="bdg" style="top:200px;background:#303030">8540.83</div>
<div class="bdg" style="top:267px;background:#00339a">8170.67</div>
<div class="bdg" style="top:310px;background:#303030">7927.01</div>
<div class="bdg" style="top:728px;background:#303030">109.776</div>
<div class="bdg" style="top:782px;background:#00fc00;color:#000;border:1px solid #20c820;box-sizing:border-box;line-height:16.500px">7.88352</div>
<div class="ml" style="left:62px">Dec</div>
<div class="ml" style="left:157px">19</div>
<div class="ml" style="left:262px">Feb</div>
<div class="ml" style="left:357px">Mar</div>
<div class="ml" style="left:462px">Apr</div>
<div class="ml" style="left:567px">May</div>
<div class="ml" style="left:677px">Jun</div>
<div class="ml" style="left:777px">Jul</div>
<div class="ml" style="left:887px">Aug</div>
<div class="ml" style="left:997px">Sep</div>
<div class="ml" style="left:1097px">Oct</div>
<div class="ml" style="left:1212px">Nov</div>
<div class="ml" style="left:1312px">Dec</div>
<div class="ml" style="left:1417px">20</div>
<div class="ml" style="left:1522px">Feb</div>
<div class="ml" style="left:1617px">Mar</div>
<div class="ml" style="left:1727px">Apr</div>
<svg class="abs" style="left:1814px;top:128px" width="30" height="26" fill="none" stroke="#1e1e1e" stroke-linecap="round"><path d="M4.400 4.400H22.700M4.400 22.500H22.700" stroke-width="2.600"/><path d="M3.600 15.500C4.800 18.200 5.600 19.300 7.200 19.300C10 19.300 12 15.500 13.800 13C16 9.700 18 7.700 19.800 7.700C21.500 7.700 22.500 9 23.400 11.200" stroke-width="1.400"/></svg>
<svg class="abs" style="left:1255px;top:175px" width="100" height="40"><path d="M10.500 3.500H86.500Q91.500 3.500 91.500 8.500V22.500Q91.500 27.500 86.500 27.500H18.500L10 35.500L14.500 27.500H10.500Q5.500 27.500 5.500 22.500V8.500Q5.500 3.500 10.500 3.500Z" fill="#d9d9d9" stroke="#b0b0b0"/></svg>
<div class="abs" style="left:1261px;top:179px;width:84px;height:23px;line-height:26.500px;font-size:14.5px;color:#222;text-align:center">Hi: 8540.83</div>
<svg class="abs" style="left:125px;top:630px" width="100" height="42"><path d="M9.500 11.500H14L10 3.500L19.500 11.500H88.500Q92.500 11.500 92.500 15.500V31.500Q92.500 35.500 88.500 35.500H9.500Q5.500 35.500 5.500 31.500V15.500Q5.500 11.500 9.500 11.500Z" fill="#d9d9d9" stroke="#b0b0b0"/></svg>
<div class="abs" style="left:130px;top:642px;width:88px;height:24px;line-height:25.500px;font-size:14.5px;color:#222;text-align:center">Lo: 6190.17</div>
<div id="note">
<div style="top:29px;transform:scaleX(1.045)">Nasdaq closed in a 26 day</div>
<div style="top:56px;color:#2aa84a;transform:scaleX(1.126)">UPTREND</div>
<div style="top:110px;transform:scaleX(1.037)">We remain above the breakout,</div>
<div style="top:137px;transform:scaleX(1.04)">with weekly confirmation.</div>
<div style="top:191px;transform:scaleX(1.062)">Stay LONG vs stops, dont pick</div>
<div style="top:218px;transform:scaleX(1.047)">tops</div>
</div>
<div id="logo"><div class="o"></div><div class="i"></div>
<svg class="abs" style="left:112px;top:28px" width="40" height="22" fill="none" stroke-width="1"><g stroke="#3a8a2a"><path d="M3.500 21V9.500M3.500 9.500H6.500V18.500H3.500M7.500 17V7H10.500V16H7.500M11.500 15.500V5H14.500V14H11.500M15.500 3V12"/></g><g stroke="#c03030"><path d="M22.500 3V12.500M22.500 5H25.500V14H22.500M26.500 7H29.500V16.500H26.500V7M30.500 9.500H33.500V21M30.500 9.500V18.500H33.500"/></g></svg>
<div class="abs" id="fz" style="left:23px;top:51.500px;font-family:'DejaVu Serif','Liberation Serif',serif;font-weight:bold;font-size:15px;line-height:18px;white-space:nowrap;color:#222;transform-origin:0 50%;letter-spacing:0.5px;transform:scaleX(1.368)">Fitzstock Charts</div>
<div class="abs" style="left:64px;top:68px;width:118px;height:2px;background:#000"></div>
<div class="abs" id="fw" style="left:55px;top:73.700px;font-family:'Liberation Sans',sans-serif;font-weight:bold;font-size:13px;line-height:16px;white-space:nowrap;color:#111;transform-origin:0 50%;transform:scaleX(1.159)">www.fitzstock.com</div>
</div>
<div id="bull"><svg width="173" height="164" viewBox="10 160 173 164">
<defs>
<radialGradient id="bgL" cx="36" cy="246" r="1" gradientUnits="userSpaceOnUse" gradientTransform="translate(36 246) scale(52 70) translate(-36 -246)"><stop offset="0" stop-color="#b4b4b4"/><stop offset="0.4" stop-color="#8c8c8c" stop-opacity="0.9"/><stop offset="1" stop-color="#2a2a2a" stop-opacity="0"/></radialGradient>
<radialGradient id="bgR" cx="150" cy="220" r="1" gradientUnits="userSpaceOnUse" gradientTransform="translate(150 220) scale(56 32) translate(-150 -220)"><stop offset="0" stop-color="#626262"/><stop offset="1" stop-color="#2a2a2a" stop-opacity="0"/></radialGradient>
<linearGradient id="bgT" x1="0" y1="170" x2="0" y2="212" gradientUnits="userSpaceOnUse"><stop offset="0" stop-color="#030503"/><stop offset="0.5" stop-color="#060806" stop-opacity="0.8"/><stop offset="1" stop-color="#0a0a0a" stop-opacity="0"/></linearGradient>
<linearGradient id="bgB" x1="0" y1="262" x2="0" y2="316" gradientUnits="userSpaceOnUse"><stop offset="0" stop-color="#0a0a0a" stop-opacity="0"/><stop offset="0.7" stop-color="#0a0a0a" stop-opacity="0.8"/><stop offset="1" stop-color="#101010" stop-opacity="0.9"/></linearGradient>
<linearGradient id="bod" x1="52" y1="0" x2="176" y2="0" gradientUnits="userSpaceOnUse"><stop offset="0" stop-color="#131313"/><stop offset="0.25" stop-color="#1c1c1c"/><stop offset="0.5" stop-color="#383838"/><stop offset="0.8" stop-color="#424242"/><stop offset="1" stop-color="#2a2a2a"/></linearGradient>
<linearGradient id="bodB" x1="0" y1="270" x2="0" y2="316" gradientUnits="userSpaceOnUse"><stop offset="0" stop-color="#000" stop-opacity="0"/><stop offset="1" stop-color="#000" stop-opacity="0.7"/></linearGradient>
<filter id="b1" x="-20%" y="-20%" width="140%" height="140%"><feGaussianBlur stdDeviation="0.700"/></filter>
<filter id="b4" x="-30%" y="-30%" width="160%" height="160%"><feGaussianBlur stdDeviation="1.300"/></filter>
<filter id="b2" x="-30%" y="-30%" width="160%" height="160%"><feGaussianBlur stdDeviation="2"/></filter>
<filter id="b3" x="-30%" y="-30%" width="160%" height="160%"><feGaussianBlur stdDeviation="3.500"/></filter>
<filter id="nz" x="-10%" y="-10%" width="120%" height="120%"><feTurbulence type="fractalNoise" baseFrequency="0.180" numOctaves="2" seed="11" result="t"/><feColorMatrix in="t" type="matrix" values="0 0 0 0 0.75  0 0 0 0 0.75  0 0 0 0 0.75  0 0 0 3.200 -1.550" result="c"/><feGaussianBlur in="SourceGraphic" stdDeviation="1.200" result="m"/><feComposite in="c" in2="m" operator="in"/></filter>
<filter id="nz2" x="0" y="0" width="100%" height="100%"><feTurbulence type="fractalNoise" baseFrequency="0.030 0.060" numOctaves="3" seed="5" result="t"/><feColorMatrix in="t" type="matrix" values="0 0 0 0 0.600  0 0 0 0 0.600  0 0 0 0 0.600  0 0 0 2.200 -0.950" result="c"/><feGaussianBlur in="SourceGraphic" stdDeviation="2.500" result="m"/><feComposite in="c" in2="m" operator="in"/></filter>
<clipPath id="bc"><rect x="18" y="170" width="156" height="146"/></clipPath>
</defs>
<rect x="14" y="166" width="164" height="154" fill="#000"/>
<rect x="17" y="169" width="158" height="148" fill="#fff"/>
<g clip-path="url(#bc)">
<rect x="18" y="170" width="156" height="146" fill="#262626"/>
<rect x="18" y="170" width="156" height="146" fill="url(#bgR)"/>
<rect x="18" y="170" width="156" height="146" fill="url(#bgL)"/>
<rect x="18" y="170" width="156" height="146" fill="url(#bgT)"/>
<rect x="18" y="170" width="156" height="146" fill="url(#bgB)"/>
<ellipse cx="78" cy="313" rx="48" ry="6" fill="#3a3a3a" filter="url(#b2)"/>
<!-- body -->
<g filter="url(#b1)">
<path d="M62 234C56 242 52 252 53 264C54 276 58 286 64 294C68 300 70 308 70 318H176V248C168 242 160 237 150 234C138 230 126 224 116 217C110 212 106 206 103 200L62 234Z" fill="url(#bod)"/>
</g>
<path d="M62 234C56 242 52 252 53 264C54 276 58 286 64 294C68 300 70 308 70 318H176V248C168 242 160 237 150 234C138 230 126 224 116 217C110 212 106 206 103 200L62 234Z" fill="#fff" filter="url(#nz2)" opacity="0.22"/>
<g filter="url(#b4)" fill="none" stroke-linecap="round" opacity="0.8">
<path d="M108 214C118 223 134 229 148 234.500C158 238.500 167 244 175 250" stroke="#9a9a9a" stroke-width="1.600" opacity="0.9"/>
<path d="M106 221C104 232 100 242 96 250" stroke="#8c8c8c" stroke-width="1.800" opacity="0.8"/>
<path d="M110 224C109 236 105 248 100 258" stroke="#7c7c7c" stroke-width="1.600" opacity="0.75"/>
<path d="M114 228C115 240 112 252 108 262" stroke="#868686" stroke-width="1.500" opacity="0.7"/>
<path d="M124 240C128 248 130 258 128 268" stroke="#7e7e7e" stroke-width="4" opacity="0.6"/>
<path d="M134 242C138 250 139 260 137 268" stroke="#6e6e6e" stroke-width="3" opacity="0.55"/>
<path d="M152 244C158 252 162 262 163 273" stroke="#747474" stroke-width="6" opacity="0.55"/>
<path d="M168 250C171 258 172 268 172 278" stroke="#5e5e5e" stroke-width="3" opacity="0.6"/>
<path d="M121 269C124 278 126 288 125 298" stroke="#a0a0a0" stroke-width="2.200" opacity="0.8"/>
<path d="M112 266C106 272 100 278 96 288" stroke="#6c6c6c" stroke-width="3" opacity="0.6"/>
<path d="M94 278C100 282 106 286 109 293" stroke="#747474" stroke-width="5" opacity="0.55"/>
<path d="M78 252C82 262 86 272 86 284" stroke="#3c3c3c" stroke-width="3" opacity="0.7"/>
<path d="M140 274C146 280 150 286 150 294" stroke="#565656" stroke-width="3" opacity="0.6"/>
</g>
<g filter="url(#b2)">
<path d="M58 242C55 260 61 280 71 296" stroke="#0c0c0c" stroke-width="10" fill="none" opacity="0.85"/>
<path d="M128 298C134 294 146 294 152 299L153 318H126Z" fill="#050505"/>
<path d="M100 300C104 297 112 297 116 301L117 318H100Z" fill="#0a0a0a" opacity="0.9"/>
<path d="M156 282C162 280 168 283 171 290L171 318H158Z" fill="#303030" opacity="0.95"/>
<path d="M153 288L158 318H150Z" fill="#080808"/>
</g>
<path d="M62 234C56 242 52 252 53 264C54 276 58 286 64 294C68 300 70 308 70 318H176V248C168 242 160 237 150 234C138 230 126 224 116 217C110 212 106 206 103 200L62 234Z" fill="url(#bodB)"/>
<!-- head -->
<g filter="url(#b1)">
<path d="M57 195C60 191 68 189 78 189C88 188 97 190 101 195C103 204 103 214 101 224C100 232 97 238 92 240C86 242 78 242 73 238C67 232 62 222 60 212C58 206 56 200 57 195Z" fill="#262626"/>
<path d="M87 192C92 191 99 193 101 197C103 206 102 220 100 228C98 234 95 238 91 238C89 230 87 220 87 210Z" fill="#565656"/>
<path d="M103 199C107 198 111 201 110 206C109 210 106 211 103 209Z" fill="#4c4c4c"/>
<ellipse cx="80.500" cy="230" rx="3" ry="2.500" fill="#080808"/><ellipse cx="95" cy="229.500" rx="2.500" ry="2.300" fill="#101010"/>
<path d="M74 236C80 240 92 240 98 236L96 243C90 246 80 246 75 242Z" fill="#0c0c0c"/>
</g>
<path d="M60 194H87V236H74C66 228 60 212 60 194Z" fill="#fff" filter="url(#nz)" opacity="0.9"/>
<ellipse cx="73" cy="212" rx="2" ry="1.400" fill="#dedede" filter="url(#b1)"/>
<!-- horns -->
<g filter="url(#b1)">
<path d="M26.500 172.500C30 180.500 35.500 187.500 42.500 191.300C48 194 54 195.300 59 195.600L58.400 199C52 198.800 45 197.400 39.500 194C32.500 189.500 28.500 181 26.500 172.500Z" fill="#9e9e9e"/>
<path d="M28 176C31.500 183 36.500 188.500 43 191.800C47 193.800 51 194.800 55 195.200" stroke="#d6d6d6" stroke-width="1.100" fill="none"/>
<path d="M133 173.500C130 181 125.500 187.500 119 191.800C113 195.500 107 197 102 197.300L102.500 201C108.500 200.800 115.500 199 121.500 195.300C128.500 190.500 131.500 182 133 173.500Z" fill="#a8a8a8"/>
<path d="M131.500 177C128.500 183 124.500 188.300 119 191.800C114 194.800 109 196.300 104 196.700" stroke="#dedede" stroke-width="1.100" fill="none"/>
</g>
</g>
<text x="93.500" y="307.500" text-anchor="middle" font-family="'DejaVu Serif','Liberation Serif',serif" font-weight="bold" font-size="14" fill="#c9c9d6" letter-spacing="0.600">Bullish</text>
</svg></div>

</div>
</body></html>
